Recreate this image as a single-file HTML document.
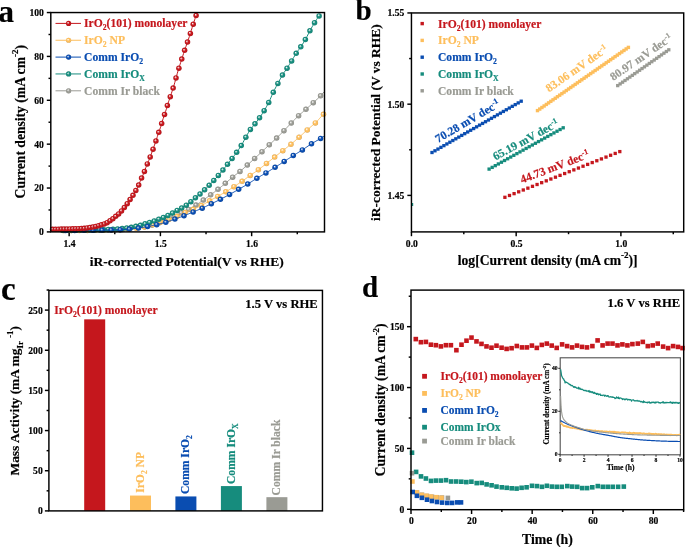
<!DOCTYPE html><html><head><meta charset="utf-8"><style>html,body{margin:0;padding:0;background:#fff;overflow:hidden}svg{display:block;filter:blur(0.3px)}</style></head><body>
<svg width="685" height="547" viewBox="0 0 685 547" font-family="Liberation Serif" font-weight="bold">
<defs>
<radialGradient id="gr" cx="0.5" cy="0.5" r="0.5" fx="0.38" fy="0.34"><stop offset="0" stop-color="#fff" stop-opacity="0.7"/><stop offset="0.5" stop-color="#C5171D"/><stop offset="0.8" stop-color="#C5171D"/><stop offset="1" stop-color="#A71318"/></radialGradient>
<radialGradient id="gy" cx="0.5" cy="0.5" r="0.5" fx="0.38" fy="0.34"><stop offset="0" stop-color="#fff" stop-opacity="0.7"/><stop offset="0.5" stop-color="#FDBE5C"/><stop offset="0.8" stop-color="#FDBE5C"/><stop offset="1" stop-color="#D7A14E"/></radialGradient>
<radialGradient id="gb" cx="0.5" cy="0.5" r="0.5" fx="0.38" fy="0.34"><stop offset="0" stop-color="#fff" stop-opacity="0.7"/><stop offset="0.5" stop-color="#0A4DB1"/><stop offset="0.8" stop-color="#0A4DB1"/><stop offset="1" stop-color="#084196"/></radialGradient>
<radialGradient id="gt" cx="0.5" cy="0.5" r="0.5" fx="0.38" fy="0.34"><stop offset="0" stop-color="#fff" stop-opacity="0.7"/><stop offset="0.5" stop-color="#168C7D"/><stop offset="0.8" stop-color="#168C7D"/><stop offset="1" stop-color="#12776A"/></radialGradient>
<radialGradient id="gg" cx="0.5" cy="0.5" r="0.5" fx="0.38" fy="0.34"><stop offset="0" stop-color="#fff" stop-opacity="0.7"/><stop offset="0.5" stop-color="#9A9B94"/><stop offset="0.8" stop-color="#9A9B94"/><stop offset="1" stop-color="#82837D"/></radialGradient>
</defs>
<text x="-1.8" y="21.6" font-size="31.5" fill="#000" stroke="#000" stroke-width="0.18" text-anchor="start">a</text>
<line x1="46.8" y1="231.9" x2="50.8" y2="231.9" stroke="#000" stroke-width="1.45"/>
<text x="43.9" y="235.3" font-size="9.6" fill="#000" stroke="#000" stroke-width="0.18" text-anchor="end">0</text>
<line x1="46.8" y1="188.03" x2="50.8" y2="188.03" stroke="#000" stroke-width="1.45"/>
<text x="43.9" y="191.43" font-size="9.6" fill="#000" stroke="#000" stroke-width="0.18" text-anchor="end">20</text>
<line x1="46.8" y1="144.16" x2="50.8" y2="144.16" stroke="#000" stroke-width="1.45"/>
<text x="43.9" y="147.56" font-size="9.6" fill="#000" stroke="#000" stroke-width="0.18" text-anchor="end">40</text>
<line x1="46.8" y1="100.29" x2="50.8" y2="100.29" stroke="#000" stroke-width="1.45"/>
<text x="43.9" y="103.69" font-size="9.6" fill="#000" stroke="#000" stroke-width="0.18" text-anchor="end">60</text>
<line x1="46.8" y1="56.42" x2="50.8" y2="56.42" stroke="#000" stroke-width="1.45"/>
<text x="43.9" y="59.82" font-size="9.6" fill="#000" stroke="#000" stroke-width="0.18" text-anchor="end">80</text>
<line x1="46.8" y1="12.55" x2="50.8" y2="12.55" stroke="#000" stroke-width="1.45"/>
<text x="43.9" y="15.95" font-size="9.6" fill="#000" stroke="#000" stroke-width="0.18" text-anchor="end">100</text>
<line x1="48.5" y1="209.97" x2="50.8" y2="209.97" stroke="#000" stroke-width="1.45"/>
<line x1="48.5" y1="166.1" x2="50.8" y2="166.1" stroke="#000" stroke-width="1.45"/>
<line x1="48.5" y1="122.23" x2="50.8" y2="122.23" stroke="#000" stroke-width="1.45"/>
<line x1="48.5" y1="78.36" x2="50.8" y2="78.36" stroke="#000" stroke-width="1.45"/>
<line x1="48.5" y1="34.49" x2="50.8" y2="34.49" stroke="#000" stroke-width="1.45"/>
<line x1="69.15" y1="231.9" x2="69.15" y2="236.2" stroke="#000" stroke-width="1.45"/>
<text x="69.55" y="246.6" font-size="9.6" fill="#000" stroke="#000" stroke-width="0.18" text-anchor="middle">1.4</text>
<line x1="160.4" y1="231.9" x2="160.4" y2="236.2" stroke="#000" stroke-width="1.45"/>
<text x="160.8" y="246.6" font-size="9.6" fill="#000" stroke="#000" stroke-width="0.18" text-anchor="middle">1.5</text>
<line x1="251.65" y1="231.9" x2="251.65" y2="236.2" stroke="#000" stroke-width="1.45"/>
<text x="252.05" y="246.6" font-size="9.6" fill="#000" stroke="#000" stroke-width="0.18" text-anchor="middle">1.6</text>
<line x1="114.78" y1="231.9" x2="114.78" y2="234.2" stroke="#000" stroke-width="1.45"/>
<line x1="206.03" y1="231.9" x2="206.03" y2="234.2" stroke="#000" stroke-width="1.45"/>
<line x1="297.27" y1="231.9" x2="297.27" y2="234.2" stroke="#000" stroke-width="1.45"/>
<text x="186.75" y="266.2" font-size="13.5" fill="#000" stroke="#000" stroke-width="0.18" text-anchor="middle">iR-corrected Potential(V vs RHE)</text>
<text x="24.6" y="121.7" font-size="13.6" fill="#000" stroke="#000" stroke-width="0.18" text-anchor="middle" transform="rotate(-90 24.6 121.7)">Current density (mA cm<tspan dy="-6.39" font-size="8.98">-2</tspan><tspan dy="6.39">)</tspan></text>
<svg x="50.8" y="12.55" width="273.7" height="219.35" viewBox="50.8 12.55 273.7 219.35" overflow="hidden">
<path d="M58,230.4 L58.89,230.4 L59.78,230.4 L60.67,230.4 L61.56,230.4 L62.45,230.4 L63.34,230.4 L64.23,230.4 L65.12,230.39 L66.01,230.39 L66.9,230.39 L67.79,230.39 L68.68,230.39 L69.57,230.39 L70.45,230.38 L71.34,230.38 L72.23,230.38 L73.12,230.38 L74.01,230.37 L74.9,230.37 L75.79,230.37 L76.68,230.36 L77.57,230.36 L78.46,230.36 L79.35,230.35 L80.24,230.35 L81.13,230.34 L82.02,230.34 L82.91,230.34 L83.8,230.33 L84.69,230.33 L85.58,230.32 L86.47,230.32 L87.36,230.31 L88.25,230.31 L89.14,230.3 L90.03,230.3 L90.92,230.29 L91.81,230.29 L92.7,230.28 L93.59,230.27 L94.47,230.26 L95.36,230.25 L96.25,230.24 L97.14,230.23 L98.03,230.21 L98.92,230.2 L99.81,230.18 L100.7,230.17 L101.59,230.15 L102.48,230.13 L103.37,230.11 L104.26,230.09 L105.15,230.07 L106.04,230.05 L106.93,230.03 L107.82,230.01 L108.71,229.98 L109.6,229.96 L110.49,229.93 L111.38,229.9 L112.27,229.88 L113.16,229.85 L114.05,229.82 L114.94,229.79 L115.83,229.76 L116.72,229.72 L117.61,229.69 L118.49,229.66 L119.38,229.62 L120.27,229.59 L121.16,229.55 L122.05,229.5 L122.94,229.45 L123.83,229.39 L124.72,229.33 L125.61,229.26 L126.5,229.19 L127.39,229.11 L128.28,229.03 L129.17,228.95 L130.06,228.85 L130.95,228.76 L131.84,228.66 L132.73,228.56 L133.62,228.45 L134.51,228.34 L135.4,228.23 L136.29,228.11 L137.18,227.99 L138.07,227.87 L138.96,227.75 L139.85,227.62 L140.74,227.49 L141.63,227.35 L142.52,227.19 L143.4,227.03 L144.29,226.85 L145.18,226.66 L146.07,226.47 L146.96,226.26 L147.85,226.05 L148.74,225.83 L149.63,225.6 L150.52,225.36 L151.41,225.12 L152.3,224.87 L153.19,224.61 L154.08,224.35 L154.97,224.08 L155.86,223.81 L156.75,223.54 L157.64,223.26 L158.53,222.97 L159.42,222.69 L160.31,222.4 L161.2,222.1 L162.09,221.77 L162.98,221.44 L163.87,221.09 L164.76,220.73 L165.65,220.35 L166.54,219.96 L167.42,219.57 L168.31,219.16 L169.2,218.75 L170.09,218.33 L170.98,217.9 L171.87,217.47 L172.76,217.03 L173.65,216.6 L174.54,216.16 L175.43,215.72 L176.32,215.28 L177.21,214.85 L178.1,214.41 L178.99,213.99 L179.88,213.56 L180.77,213.15 L181.66,212.74 L182.55,212.33 L183.44,211.93 L184.33,211.54 L185.22,211.13 L186.11,210.72 L187,210.3 L187.89,209.87 L188.78,209.41 L189.67,208.94 L190.56,208.44 L191.44,207.92 L192.33,207.39 L193.22,206.85 L194.11,206.3 L195,205.74 L195.89,205.17 L196.78,204.59 L197.67,204 L198.56,203.39 L199.45,202.77 L200.34,202.14 L201.23,201.51 L202.12,200.88 L203.01,200.25 L203.9,199.62 L204.79,198.99 L205.68,198.37 L206.57,197.74 L207.46,197.1 L208.35,196.47 L209.24,195.83 L210.13,195.19 L211.02,194.54 L211.91,193.89 L212.8,193.24 L213.69,192.59 L214.58,191.93 L215.46,191.27 L216.35,190.6 L217.24,189.92 L218.13,189.23 L219.02,188.53 L219.91,187.82 L220.8,187.09 L221.69,186.36 L222.58,185.62 L223.47,184.88 L224.36,184.14 L225.25,183.39 L226.14,182.65 L227.03,181.89 L227.92,181.13 L228.81,180.37 L229.7,179.6 L230.59,178.84 L231.48,178.09 L232.37,177.35 L233.26,176.63 L234.15,175.93 L235.04,175.24 L235.93,174.56 L236.82,173.89 L237.71,173.21 L238.6,172.52 L239.48,171.82 L240.37,171.1 L241.26,170.36 L242.15,169.61 L243.04,168.84 L243.93,168.06 L244.82,167.27 L245.71,166.48 L246.6,165.69 L247.49,164.9 L248.38,164.1 L249.27,163.31 L250.16,162.51 L251.05,161.71 L251.94,160.9 L252.83,160.09 L253.72,159.28 L254.61,158.47 L255.5,157.66 L256.39,156.85 L257.28,156.04 L258.17,155.23 L259.06,154.41 L259.95,153.59 L260.84,152.77 L261.73,151.94 L262.62,151.11 L263.51,150.28 L264.39,149.43 L265.28,148.59 L266.17,147.74 L267.06,146.89 L267.95,146.05 L268.84,145.21 L269.73,144.38 L270.62,143.56 L271.51,142.75 L272.4,141.94 L273.29,141.14 L274.18,140.33 L275.07,139.52 L275.96,138.69 L276.85,137.84 L277.74,136.98 L278.63,136.1 L279.52,135.21 L280.41,134.3 L281.3,133.39 L282.19,132.47 L283.08,131.55 L283.97,130.64 L284.86,129.72 L285.75,128.79 L286.64,127.86 L287.53,126.93 L288.41,126 L289.3,125.07 L290.19,124.14 L291.08,123.23 L291.97,122.32 L292.86,121.4 L293.75,120.49 L294.64,119.58 L295.53,118.68 L296.42,117.79 L297.31,116.92 L298.2,116.06 L299.09,115.23 L299.98,114.42 L300.87,113.64 L301.76,112.87 L302.65,112.11 L303.54,111.35 L304.43,110.59 L305.32,109.82 L306.21,109.04 L307.1,108.26 L307.99,107.47 L308.88,106.69 L309.77,105.9 L310.66,105.1 L311.55,104.31 L312.43,103.5 L313.32,102.69 L314.21,101.87 L315.1,101.06 L315.99,100.25 L316.88,99.42 L317.77,98.59 L318.66,97.74 L319.55,96.86 L320.44,95.96 L321.33,95.03 L322.22,94.05 L323.11,93.03 L324,92" fill="none" stroke="#9A9B94" stroke-width="1"/>
<circle cx="64.05" cy="230.4" r="2.75" fill="url(#gg)"/>
<circle cx="71.38" cy="230.38" r="2.75" fill="url(#gg)"/>
<circle cx="78.71" cy="230.35" r="2.75" fill="url(#gg)"/>
<circle cx="86.04" cy="230.32" r="2.75" fill="url(#gg)"/>
<circle cx="93.37" cy="230.27" r="2.75" fill="url(#gg)"/>
<circle cx="100.7" cy="230.17" r="2.75" fill="url(#gg)"/>
<circle cx="108.03" cy="230" r="2.75" fill="url(#gg)"/>
<circle cx="115.36" cy="229.77" r="2.75" fill="url(#gg)"/>
<circle cx="122.69" cy="229.47" r="2.75" fill="url(#gg)"/>
<circle cx="130.02" cy="228.86" r="2.75" fill="url(#gg)"/>
<circle cx="137.35" cy="227.97" r="2.75" fill="url(#gg)"/>
<circle cx="144.68" cy="226.77" r="2.75" fill="url(#gg)"/>
<circle cx="152.01" cy="224.95" r="2.75" fill="url(#gg)"/>
<circle cx="159.34" cy="222.71" r="2.75" fill="url(#gg)"/>
<circle cx="166.67" cy="219.9" r="2.75" fill="url(#gg)"/>
<circle cx="174" cy="216.43" r="2.75" fill="url(#gg)"/>
<circle cx="181.33" cy="212.89" r="2.75" fill="url(#gg)"/>
<circle cx="188.66" cy="209.47" r="2.75" fill="url(#gg)"/>
<circle cx="195.99" cy="205.11" r="2.75" fill="url(#gg)"/>
<circle cx="203.32" cy="200.03" r="2.75" fill="url(#gg)"/>
<circle cx="210.65" cy="194.81" r="2.75" fill="url(#gg)"/>
<circle cx="217.98" cy="189.35" r="2.75" fill="url(#gg)"/>
<circle cx="225.31" cy="183.34" r="2.75" fill="url(#gg)"/>
<circle cx="232.64" cy="177.13" r="2.75" fill="url(#gg)"/>
<circle cx="239.97" cy="171.43" r="2.75" fill="url(#gg)"/>
<circle cx="247.3" cy="165.07" r="2.75" fill="url(#gg)"/>
<circle cx="254.63" cy="158.45" r="2.75" fill="url(#gg)"/>
<circle cx="261.96" cy="151.72" r="2.75" fill="url(#gg)"/>
<circle cx="269.29" cy="144.79" r="2.75" fill="url(#gg)"/>
<circle cx="276.62" cy="138.06" r="2.75" fill="url(#gg)"/>
<circle cx="283.95" cy="130.65" r="2.75" fill="url(#gg)"/>
<circle cx="291.28" cy="123.02" r="2.75" fill="url(#gg)"/>
<circle cx="298.61" cy="115.68" r="2.75" fill="url(#gg)"/>
<circle cx="305.94" cy="109.28" r="2.75" fill="url(#gg)"/>
<circle cx="313.27" cy="102.74" r="2.75" fill="url(#gg)"/>
<circle cx="320.6" cy="95.8" r="2.75" fill="url(#gg)"/>
<path d="M58,230.5 L58.89,230.5 L59.79,230.5 L60.68,230.5 L61.57,230.5 L62.46,230.5 L63.36,230.5 L64.25,230.5 L65.14,230.49 L66.04,230.49 L66.93,230.49 L67.82,230.49 L68.72,230.49 L69.61,230.48 L70.5,230.48 L71.39,230.48 L72.29,230.48 L73.18,230.47 L74.07,230.47 L74.97,230.47 L75.86,230.47 L76.75,230.46 L77.65,230.46 L78.54,230.46 L79.43,230.45 L80.32,230.45 L81.22,230.44 L82.11,230.44 L83,230.44 L83.9,230.43 L84.79,230.43 L85.68,230.42 L86.58,230.42 L87.47,230.41 L88.36,230.41 L89.25,230.4 L90.15,230.4 L91.04,230.39 L91.93,230.39 L92.83,230.38 L93.72,230.37 L94.61,230.36 L95.51,230.36 L96.4,230.35 L97.29,230.33 L98.18,230.32 L99.08,230.31 L99.97,230.3 L100.86,230.28 L101.76,230.27 L102.65,230.25 L103.54,230.24 L104.43,230.22 L105.33,230.2 L106.22,230.19 L107.11,230.17 L108.01,230.15 L108.9,230.13 L109.79,230.1 L110.69,230.08 L111.58,230.06 L112.47,230.03 L113.36,230.01 L114.26,229.98 L115.15,229.96 L116.04,229.93 L116.94,229.9 L117.83,229.87 L118.72,229.84 L119.62,229.81 L120.51,229.78 L121.4,229.74 L122.29,229.7 L123.19,229.65 L124.08,229.59 L124.97,229.53 L125.87,229.46 L126.76,229.39 L127.65,229.31 L128.55,229.23 L129.44,229.14 L130.33,229.04 L131.22,228.95 L132.12,228.85 L133.01,228.74 L133.9,228.63 L134.8,228.52 L135.69,228.4 L136.58,228.28 L137.47,228.16 L138.37,228.04 L139.26,227.91 L140.15,227.78 L141.05,227.63 L141.94,227.48 L142.83,227.3 L143.73,227.11 L144.62,226.91 L145.51,226.69 L146.4,226.47 L147.3,226.23 L148.19,225.98 L149.08,225.73 L149.98,225.46 L150.87,225.19 L151.76,224.92 L152.66,224.64 L153.55,224.35 L154.44,224.07 L155.33,223.78 L156.23,223.5 L157.12,223.21 L158.01,222.92 L158.91,222.64 L159.8,222.36 L160.69,222.09 L161.59,221.81 L162.48,221.53 L163.37,221.24 L164.26,220.96 L165.16,220.67 L166.05,220.38 L166.94,220.08 L167.84,219.78 L168.73,219.47 L169.62,219.16 L170.52,218.85 L171.41,218.52 L172.3,218.2 L173.19,217.86 L174.09,217.52 L174.98,217.17 L175.87,216.82 L176.77,216.46 L177.66,216.07 L178.55,215.66 L179.44,215.23 L180.34,214.78 L181.23,214.33 L182.12,213.87 L183.02,213.43 L183.91,213 L184.8,212.6 L185.7,212.22 L186.59,211.86 L187.48,211.51 L188.37,211.17 L189.27,210.83 L190.16,210.49 L191.05,210.15 L191.95,209.79 L192.84,209.43 L193.73,209.05 L194.63,208.67 L195.52,208.28 L196.41,207.9 L197.3,207.5 L198.2,207.09 L199.09,206.68 L199.98,206.25 L200.88,205.81 L201.77,205.36 L202.66,204.88 L203.56,204.37 L204.45,203.85 L205.34,203.32 L206.23,202.78 L207.13,202.24 L208.02,201.71 L208.91,201.19 L209.81,200.68 L210.7,200.19 L211.59,199.7 L212.48,199.22 L213.38,198.74 L214.27,198.27 L215.16,197.79 L216.06,197.3 L216.95,196.82 L217.84,196.32 L218.74,195.82 L219.63,195.32 L220.52,194.82 L221.41,194.31 L222.31,193.8 L223.2,193.29 L224.09,192.77 L224.99,192.24 L225.88,191.71 L226.77,191.17 L227.67,190.63 L228.56,190.08 L229.45,189.52 L230.34,188.96 L231.24,188.4 L232.13,187.83 L233.02,187.26 L233.92,186.68 L234.81,186.11 L235.7,185.52 L236.6,184.94 L237.49,184.35 L238.38,183.75 L239.27,183.16 L240.17,182.55 L241.06,181.95 L241.95,181.33 L242.85,180.71 L243.74,180.08 L244.63,179.45 L245.53,178.8 L246.42,178.16 L247.31,177.51 L248.2,176.87 L249.1,176.23 L249.99,175.59 L250.88,174.96 L251.78,174.34 L252.67,173.73 L253.56,173.12 L254.45,172.51 L255.35,171.9 L256.24,171.28 L257.13,170.66 L258.03,170.02 L258.92,169.36 L259.81,168.69 L260.71,168.01 L261.6,167.31 L262.49,166.61 L263.38,165.9 L264.28,165.19 L265.17,164.48 L266.06,163.78 L266.96,163.08 L267.85,162.38 L268.74,161.69 L269.64,160.99 L270.53,160.29 L271.42,159.6 L272.31,158.9 L273.21,158.2 L274.1,157.51 L274.99,156.81 L275.89,156.1 L276.78,155.4 L277.67,154.69 L278.57,153.99 L279.46,153.28 L280.35,152.57 L281.24,151.87 L282.14,151.16 L283.03,150.46 L283.92,149.75 L284.82,149.06 L285.71,148.37 L286.6,147.68 L287.49,146.99 L288.39,146.29 L289.28,145.59 L290.17,144.88 L291.07,144.15 L291.96,143.42 L292.85,142.67 L293.75,141.92 L294.64,141.15 L295.53,140.38 L296.42,139.6 L297.32,138.82 L298.21,138.04 L299.1,137.25 L300,136.46 L300.89,135.66 L301.78,134.85 L302.68,134.04 L303.57,133.23 L304.46,132.41 L305.35,131.6 L306.25,130.79 L307.14,129.99 L308.03,129.19 L308.93,128.42 L309.82,127.67 L310.71,126.92 L311.61,126.17 L312.5,125.42 L313.39,124.66 L314.28,123.88 L315.18,123.07 L316.07,122.23 L316.96,121.34 L317.86,120.38 L318.75,119.4 L319.64,118.39 L320.54,117.39 L321.43,116.41 L322.32,115.47 L323.21,114.59 L324.11,113.78 L325,113" fill="none" stroke="#FDBE5C" stroke-width="1"/>
<circle cx="63.02" cy="230.5" r="2.75" fill="url(#gy)"/>
<circle cx="71.16" cy="230.48" r="2.75" fill="url(#gy)"/>
<circle cx="79.3" cy="230.45" r="2.75" fill="url(#gy)"/>
<circle cx="87.44" cy="230.41" r="2.75" fill="url(#gy)"/>
<circle cx="95.58" cy="230.35" r="2.75" fill="url(#gy)"/>
<circle cx="103.72" cy="230.24" r="2.75" fill="url(#gy)"/>
<circle cx="111.86" cy="230.05" r="2.75" fill="url(#gy)"/>
<circle cx="120" cy="229.8" r="2.75" fill="url(#gy)"/>
<circle cx="128.14" cy="229.26" r="2.75" fill="url(#gy)"/>
<circle cx="136.28" cy="228.32" r="2.75" fill="url(#gy)"/>
<circle cx="144.42" cy="226.95" r="2.75" fill="url(#gy)"/>
<circle cx="152.56" cy="224.67" r="2.75" fill="url(#gy)"/>
<circle cx="160.7" cy="222.08" r="2.75" fill="url(#gy)"/>
<circle cx="168.84" cy="219.43" r="2.75" fill="url(#gy)"/>
<circle cx="176.98" cy="216.37" r="2.75" fill="url(#gy)"/>
<circle cx="185.12" cy="212.46" r="2.75" fill="url(#gy)"/>
<circle cx="193.26" cy="209.25" r="2.75" fill="url(#gy)"/>
<circle cx="201.4" cy="205.55" r="2.75" fill="url(#gy)"/>
<circle cx="209.54" cy="200.83" r="2.75" fill="url(#gy)"/>
<circle cx="217.68" cy="196.41" r="2.75" fill="url(#gy)"/>
<circle cx="225.82" cy="191.75" r="2.75" fill="url(#gy)"/>
<circle cx="233.96" cy="186.65" r="2.75" fill="url(#gy)"/>
<circle cx="242.1" cy="181.23" r="2.75" fill="url(#gy)"/>
<circle cx="250.24" cy="175.41" r="2.75" fill="url(#gy)"/>
<circle cx="258.38" cy="169.76" r="2.75" fill="url(#gy)"/>
<circle cx="266.52" cy="163.42" r="2.75" fill="url(#gy)"/>
<circle cx="274.66" cy="157.07" r="2.75" fill="url(#gy)"/>
<circle cx="282.8" cy="150.64" r="2.75" fill="url(#gy)"/>
<circle cx="290.94" cy="144.26" r="2.75" fill="url(#gy)"/>
<circle cx="299.08" cy="137.27" r="2.75" fill="url(#gy)"/>
<circle cx="307.22" cy="129.92" r="2.75" fill="url(#gy)"/>
<circle cx="315.36" cy="122.9" r="2.75" fill="url(#gy)"/>
<circle cx="323.5" cy="114.32" r="2.75" fill="url(#gy)"/>
<path d="M58,230.2 L58.87,230.2 L59.75,230.2 L60.62,230.2 L61.49,230.2 L62.37,230.19 L63.24,230.19 L64.11,230.19 L64.99,230.19 L65.86,230.18 L66.73,230.18 L67.61,230.18 L68.48,230.17 L69.35,230.17 L70.23,230.16 L71.1,230.16 L71.97,230.15 L72.85,230.15 L73.72,230.14 L74.59,230.14 L75.46,230.13 L76.34,230.13 L77.21,230.12 L78.08,230.11 L78.96,230.11 L79.83,230.1 L80.7,230.09 L81.58,230.09 L82.45,230.08 L83.32,230.07 L84.2,230.06 L85.07,230.05 L85.94,230.04 L86.82,230.03 L87.69,230.02 L88.56,230.01 L89.44,230 L90.31,229.99 L91.18,229.97 L92.06,229.96 L92.93,229.94 L93.8,229.93 L94.68,229.91 L95.55,229.89 L96.42,229.88 L97.3,229.86 L98.17,229.84 L99.04,229.82 L99.92,229.8 L100.79,229.78 L101.66,229.76 L102.54,229.73 L103.41,229.71 L104.28,229.68 L105.16,229.65 L106.03,229.61 L106.9,229.58 L107.77,229.54 L108.65,229.5 L109.52,229.46 L110.39,229.41 L111.27,229.37 L112.14,229.32 L113.01,229.27 L113.89,229.22 L114.76,229.17 L115.63,229.11 L116.51,229.05 L117.38,228.99 L118.25,228.93 L119.13,228.87 L120,228.8 L120.87,228.73 L121.75,228.64 L122.62,228.55 L123.49,228.45 L124.37,228.34 L125.24,228.22 L126.11,228.09 L126.99,227.96 L127.86,227.82 L128.73,227.67 L129.61,227.52 L130.48,227.37 L131.35,227.21 L132.23,227.05 L133.1,226.89 L133.97,226.72 L134.85,226.56 L135.72,226.39 L136.59,226.23 L137.47,226.05 L138.34,225.87 L139.21,225.68 L140.08,225.47 L140.96,225.25 L141.83,225 L142.7,224.71 L143.58,224.38 L144.45,224.05 L145.32,223.73 L146.2,223.44 L147.07,223.18 L147.94,222.93 L148.82,222.68 L149.69,222.42 L150.56,222.16 L151.44,221.89 L152.31,221.62 L153.18,221.34 L154.06,221.05 L154.93,220.74 L155.8,220.41 L156.68,220.06 L157.55,219.7 L158.42,219.35 L159.3,219.01 L160.17,218.69 L161.04,218.37 L161.92,218.05 L162.79,217.72 L163.66,217.37 L164.54,217.01 L165.41,216.62 L166.28,216.22 L167.16,215.81 L168.03,215.39 L168.9,214.95 L169.78,214.49 L170.65,214.02 L171.52,213.55 L172.39,213.07 L173.27,212.58 L174.14,212.09 L175.01,211.58 L175.89,211.08 L176.76,210.59 L177.63,210.11 L178.51,209.65 L179.38,209.2 L180.25,208.74 L181.13,208.28 L182,207.79 L182.87,207.28 L183.75,206.76 L184.62,206.23 L185.49,205.67 L186.37,205.09 L187.24,204.48 L188.11,203.84 L188.99,203.16 L189.86,202.47 L190.73,201.78 L191.61,201.07 L192.48,200.34 L193.35,199.6 L194.23,198.85 L195.1,198.11 L195.97,197.37 L196.85,196.65 L197.72,195.94 L198.59,195.23 L199.47,194.5 L200.34,193.75 L201.21,192.98 L202.09,192.18 L202.96,191.36 L203.83,190.53 L204.71,189.7 L205.58,188.85 L206.45,187.98 L207.32,187.11 L208.2,186.22 L209.07,185.34 L209.94,184.44 L210.82,183.54 L211.69,182.64 L212.56,181.72 L213.44,180.8 L214.31,179.86 L215.18,178.91 L216.06,177.95 L216.93,176.99 L217.8,176 L218.68,175.01 L219.55,174.01 L220.42,172.99 L221.3,171.95 L222.17,170.91 L223.04,169.85 L223.92,168.77 L224.79,167.67 L225.66,166.56 L226.54,165.45 L227.41,164.34 L228.28,163.24 L229.16,162.15 L230.03,161.06 L230.9,159.96 L231.78,158.85 L232.65,157.71 L233.52,156.56 L234.4,155.4 L235.27,154.22 L236.14,153.02 L237.02,151.8 L237.89,150.58 L238.76,149.35 L239.63,148.09 L240.51,146.78 L241.38,145.39 L242.25,143.9 L243.13,142.27 L244,140.58 L244.87,138.9 L245.75,137.29 L246.62,135.75 L247.49,134.2 L248.37,132.7 L249.24,131.26 L250.11,129.91 L250.99,128.69 L251.86,127.58 L252.73,126.54 L253.61,125.51 L254.48,124.47 L255.35,123.38 L256.23,122.26 L257.1,121.13 L257.97,119.98 L258.85,118.8 L259.72,117.57 L260.59,116.3 L261.47,114.98 L262.34,113.62 L263.21,112.23 L264.09,110.79 L264.96,109.32 L265.83,107.82 L266.71,106.27 L267.58,104.66 L268.45,102.99 L269.33,101.21 L270.2,99.28 L271.07,97.25 L271.94,95.21 L272.82,93.24 L273.69,91.4 L274.56,89.67 L275.44,87.99 L276.31,86.35 L277.18,84.72 L278.06,83.09 L278.93,81.44 L279.8,79.79 L280.68,78.16 L281.55,76.58 L282.42,75.1 L283.3,73.71 L284.17,72.39 L285.04,71.11 L285.92,69.83 L286.79,68.52 L287.66,67.17 L288.54,65.81 L289.41,64.44 L290.28,63.05 L291.16,61.65 L292.03,60.24 L292.9,58.78 L293.78,57.31 L294.65,55.84 L295.52,54.42 L296.4,53.05 L297.27,51.77 L298.14,50.55 L299.02,49.34 L299.89,48.12 L300.76,46.86 L301.64,45.55 L302.51,44.22 L303.38,42.87 L304.25,41.46 L305.13,40 L306,38.43 L306.87,36.75 L307.75,35.01 L308.62,33.27 L309.49,31.6 L310.37,29.99 L311.24,28.39 L312.11,26.83 L312.99,25.3 L313.86,23.82 L314.73,22.4 L315.61,21.02 L316.48,19.68 L317.35,18.38 L318.23,17.12 L319.1,15.9" fill="none" stroke="#168C7D" stroke-width="1"/>
<circle cx="62.62" cy="230.19" r="2.75" fill="url(#gt)"/>
<circle cx="67.2" cy="230.18" r="2.75" fill="url(#gt)"/>
<circle cx="71.78" cy="230.15" r="2.75" fill="url(#gt)"/>
<circle cx="76.36" cy="230.13" r="2.75" fill="url(#gt)"/>
<circle cx="80.94" cy="230.09" r="2.75" fill="url(#gt)"/>
<circle cx="85.52" cy="230.05" r="2.75" fill="url(#gt)"/>
<circle cx="90.1" cy="229.99" r="2.75" fill="url(#gt)"/>
<circle cx="94.68" cy="229.91" r="2.75" fill="url(#gt)"/>
<circle cx="99.26" cy="229.82" r="2.75" fill="url(#gt)"/>
<circle cx="103.84" cy="229.69" r="2.75" fill="url(#gt)"/>
<circle cx="108.42" cy="229.51" r="2.75" fill="url(#gt)"/>
<circle cx="113" cy="229.27" r="2.75" fill="url(#gt)"/>
<circle cx="117.58" cy="228.98" r="2.75" fill="url(#gt)"/>
<circle cx="122.16" cy="228.6" r="2.75" fill="url(#gt)"/>
<circle cx="126.74" cy="228" r="2.75" fill="url(#gt)"/>
<circle cx="131.32" cy="227.22" r="2.75" fill="url(#gt)"/>
<circle cx="135.9" cy="226.36" r="2.75" fill="url(#gt)"/>
<circle cx="140.48" cy="225.37" r="2.75" fill="url(#gt)"/>
<circle cx="145.06" cy="223.82" r="2.75" fill="url(#gt)"/>
<circle cx="149.64" cy="222.44" r="2.75" fill="url(#gt)"/>
<circle cx="154.22" cy="221" r="2.75" fill="url(#gt)"/>
<circle cx="158.8" cy="219.2" r="2.75" fill="url(#gt)"/>
<circle cx="163.38" cy="217.49" r="2.75" fill="url(#gt)"/>
<circle cx="167.96" cy="215.42" r="2.75" fill="url(#gt)"/>
<circle cx="172.54" cy="212.99" r="2.75" fill="url(#gt)"/>
<circle cx="177.12" cy="210.39" r="2.75" fill="url(#gt)"/>
<circle cx="181.7" cy="207.96" r="2.75" fill="url(#gt)"/>
<circle cx="186.28" cy="205.15" r="2.75" fill="url(#gt)"/>
<circle cx="190.86" cy="201.67" r="2.75" fill="url(#gt)"/>
<circle cx="195.44" cy="197.82" r="2.75" fill="url(#gt)"/>
<circle cx="200.02" cy="194.03" r="2.75" fill="url(#gt)"/>
<circle cx="204.6" cy="189.8" r="2.75" fill="url(#gt)"/>
<circle cx="209.18" cy="185.22" r="2.75" fill="url(#gt)"/>
<circle cx="213.76" cy="180.45" r="2.75" fill="url(#gt)"/>
<circle cx="218.34" cy="175.4" r="2.75" fill="url(#gt)"/>
<circle cx="222.92" cy="170" r="2.75" fill="url(#gt)"/>
<circle cx="227.5" cy="164.23" r="2.75" fill="url(#gt)"/>
<circle cx="232.08" cy="158.46" r="2.75" fill="url(#gt)"/>
<circle cx="236.66" cy="152.3" r="2.75" fill="url(#gt)"/>
<circle cx="241.24" cy="145.62" r="2.75" fill="url(#gt)"/>
<circle cx="245.82" cy="137.16" r="2.75" fill="url(#gt)"/>
<circle cx="250.4" cy="129.5" r="2.75" fill="url(#gt)"/>
<circle cx="254.98" cy="123.85" r="2.75" fill="url(#gt)"/>
<circle cx="259.56" cy="117.8" r="2.75" fill="url(#gt)"/>
<circle cx="264.14" cy="110.7" r="2.75" fill="url(#gt)"/>
<circle cx="268.72" cy="102.46" r="2.75" fill="url(#gt)"/>
<circle cx="273.3" cy="92.21" r="2.75" fill="url(#gt)"/>
<circle cx="277.88" cy="83.42" r="2.75" fill="url(#gt)"/>
<circle cx="282.46" cy="75.04" r="2.75" fill="url(#gt)"/>
<circle cx="287.04" cy="68.14" r="2.75" fill="url(#gt)"/>
<circle cx="291.62" cy="60.91" r="2.75" fill="url(#gt)"/>
<circle cx="296.2" cy="53.35" r="2.75" fill="url(#gt)"/>
<circle cx="300.78" cy="46.83" r="2.75" fill="url(#gt)"/>
<circle cx="305.36" cy="39.6" r="2.75" fill="url(#gt)"/>
<circle cx="309.94" cy="30.77" r="2.75" fill="url(#gt)"/>
<circle cx="314.52" cy="22.74" r="2.75" fill="url(#gt)"/>
<circle cx="319.1" cy="15.9" r="2.75" fill="url(#gt)"/>
<path d="M58,230.6 L58.89,230.59 L59.79,230.58 L60.68,230.57 L61.57,230.56 L62.46,230.54 L63.36,230.53 L64.25,230.52 L65.14,230.51 L66.04,230.5 L66.93,230.49 L67.82,230.48 L68.72,230.47 L69.61,230.46 L70.5,230.45 L71.39,230.44 L72.29,230.43 L73.18,230.42 L74.07,230.41 L74.97,230.4 L75.86,230.39 L76.75,230.37 L77.65,230.36 L78.54,230.35 L79.43,230.34 L80.32,230.33 L81.22,230.32 L82.11,230.31 L83,230.3 L83.9,230.29 L84.79,230.28 L85.68,230.27 L86.58,230.26 L87.47,230.25 L88.36,230.24 L89.25,230.23 L90.15,230.22 L91.04,230.21 L91.93,230.2 L92.83,230.19 L93.72,230.18 L94.61,230.17 L95.51,230.16 L96.4,230.15 L97.29,230.14 L98.18,230.13 L99.08,230.12 L99.97,230.11 L100.86,230.1 L101.76,230.09 L102.65,230.09 L103.54,230.08 L104.43,230.07 L105.33,230.06 L106.22,230.05 L107.11,230.04 L108.01,230.04 L108.9,230.03 L109.79,230.01 L110.69,230 L111.58,229.98 L112.47,229.97 L113.36,229.94 L114.26,229.92 L115.15,229.89 L116.04,229.86 L116.94,229.83 L117.83,229.79 L118.72,229.76 L119.62,229.72 L120.51,229.68 L121.4,229.64 L122.29,229.59 L123.19,229.54 L124.08,229.48 L124.97,229.42 L125.87,229.36 L126.76,229.29 L127.65,229.23 L128.55,229.15 L129.44,229.08 L130.33,229 L131.22,228.92 L132.12,228.83 L133.01,228.73 L133.9,228.63 L134.8,228.53 L135.69,228.42 L136.58,228.31 L137.47,228.2 L138.37,228.08 L139.26,227.95 L140.15,227.82 L141.05,227.69 L141.94,227.54 L142.83,227.39 L143.73,227.24 L144.62,227.09 L145.51,226.93 L146.4,226.76 L147.3,226.6 L148.19,226.43 L149.08,226.26 L149.98,226.09 L150.87,225.91 L151.76,225.73 L152.66,225.54 L153.55,225.35 L154.44,225.16 L155.33,224.96 L156.23,224.76 L157.12,224.55 L158.01,224.34 L158.91,224.12 L159.8,223.9 L160.69,223.67 L161.59,223.44 L162.48,223.2 L163.37,222.96 L164.26,222.71 L165.16,222.45 L166.05,222.18 L166.94,221.91 L167.84,221.61 L168.73,221.31 L169.62,220.99 L170.52,220.67 L171.41,220.34 L172.3,220.01 L173.19,219.68 L174.09,219.36 L174.98,219.04 L175.87,218.72 L176.77,218.4 L177.66,218.08 L178.55,217.77 L179.44,217.45 L180.34,217.13 L181.23,216.8 L182.12,216.47 L183.02,216.14 L183.91,215.8 L184.8,215.45 L185.7,215.09 L186.59,214.73 L187.48,214.37 L188.37,214 L189.27,213.62 L190.16,213.25 L191.05,212.87 L191.95,212.5 L192.84,212.13 L193.73,211.75 L194.63,211.38 L195.52,211.01 L196.41,210.64 L197.3,210.27 L198.2,209.89 L199.09,209.51 L199.98,209.13 L200.88,208.74 L201.77,208.35 L202.66,207.95 L203.56,207.53 L204.45,207.12 L205.34,206.69 L206.23,206.26 L207.13,205.83 L208.02,205.4 L208.91,204.96 L209.81,204.53 L210.7,204.09 L211.59,203.66 L212.48,203.23 L213.38,202.8 L214.27,202.37 L215.16,201.94 L216.06,201.51 L216.95,201.07 L217.84,200.63 L218.74,200.19 L219.63,199.74 L220.52,199.29 L221.41,198.83 L222.31,198.36 L223.2,197.89 L224.09,197.42 L224.99,196.95 L225.88,196.47 L226.77,195.98 L227.67,195.5 L228.56,195.01 L229.45,194.53 L230.34,194.04 L231.24,193.55 L232.13,193.05 L233.02,192.55 L233.92,192.06 L234.81,191.55 L235.7,191.05 L236.6,190.54 L237.49,190.04 L238.38,189.53 L239.27,189.01 L240.17,188.5 L241.06,187.98 L241.95,187.47 L242.85,186.95 L243.74,186.42 L244.63,185.9 L245.53,185.37 L246.42,184.83 L247.31,184.3 L248.2,183.75 L249.1,183.2 L249.99,182.64 L250.88,182.08 L251.78,181.51 L252.67,180.94 L253.56,180.37 L254.45,179.81 L255.35,179.25 L256.24,178.7 L257.13,178.15 L258.03,177.61 L258.92,177.08 L259.81,176.55 L260.71,176.02 L261.6,175.49 L262.49,174.97 L263.38,174.44 L264.28,173.91 L265.17,173.38 L266.06,172.84 L266.96,172.3 L267.85,171.77 L268.74,171.23 L269.64,170.69 L270.53,170.15 L271.42,169.61 L272.31,169.07 L273.21,168.52 L274.1,167.96 L274.99,167.4 L275.89,166.84 L276.78,166.26 L277.67,165.68 L278.57,165.1 L279.46,164.51 L280.35,163.92 L281.24,163.33 L282.14,162.75 L283.03,162.16 L283.92,161.59 L284.82,161.01 L285.71,160.44 L286.6,159.87 L287.49,159.3 L288.39,158.73 L289.28,158.16 L290.17,157.59 L291.07,157.03 L291.96,156.46 L292.85,155.89 L293.75,155.33 L294.64,154.77 L295.53,154.21 L296.42,153.65 L297.32,153.09 L298.21,152.53 L299.1,151.97 L300,151.41 L300.89,150.84 L301.78,150.27 L302.68,149.69 L303.57,149.1 L304.46,148.5 L305.35,147.89 L306.25,147.29 L307.14,146.68 L308.03,146.07 L308.93,145.48 L309.82,144.89 L310.71,144.31 L311.61,143.75 L312.5,143.2 L313.39,142.66 L314.28,142.13 L315.18,141.61 L316.07,141.09 L316.96,140.57 L317.86,140.05 L318.75,139.52 L319.64,138.98 L320.54,138.44 L321.43,137.88 L322.32,137.32 L323.21,136.75 L324.11,136.18 L325,135.6" fill="none" stroke="#0A4DB1" stroke-width="1"/>
<circle cx="65.63" cy="230.51" r="2.75" fill="url(#gb)"/>
<circle cx="74.74" cy="230.4" r="2.75" fill="url(#gb)"/>
<circle cx="83.84" cy="230.29" r="2.75" fill="url(#gb)"/>
<circle cx="92.95" cy="230.19" r="2.75" fill="url(#gb)"/>
<circle cx="102.06" cy="230.09" r="2.75" fill="url(#gb)"/>
<circle cx="111.16" cy="229.99" r="2.75" fill="url(#gb)"/>
<circle cx="120.27" cy="229.69" r="2.75" fill="url(#gb)"/>
<circle cx="129.37" cy="229.09" r="2.75" fill="url(#gb)"/>
<circle cx="138.48" cy="228.06" r="2.75" fill="url(#gb)"/>
<circle cx="147.59" cy="226.55" r="2.75" fill="url(#gb)"/>
<circle cx="156.69" cy="224.65" r="2.75" fill="url(#gb)"/>
<circle cx="165.8" cy="222.26" r="2.75" fill="url(#gb)"/>
<circle cx="174.9" cy="219.06" r="2.75" fill="url(#gb)"/>
<circle cx="184.01" cy="215.76" r="2.75" fill="url(#gb)"/>
<circle cx="193.12" cy="212.01" r="2.75" fill="url(#gb)"/>
<circle cx="202.22" cy="208.15" r="2.75" fill="url(#gb)"/>
<circle cx="211.33" cy="203.79" r="2.75" fill="url(#gb)"/>
<circle cx="220.43" cy="199.33" r="2.75" fill="url(#gb)"/>
<circle cx="229.54" cy="194.48" r="2.75" fill="url(#gb)"/>
<circle cx="238.65" cy="189.37" r="2.75" fill="url(#gb)"/>
<circle cx="247.75" cy="184.03" r="2.75" fill="url(#gb)"/>
<circle cx="256.86" cy="178.32" r="2.75" fill="url(#gb)"/>
<circle cx="265.96" cy="172.9" r="2.75" fill="url(#gb)"/>
<circle cx="275.07" cy="167.36" r="2.75" fill="url(#gb)"/>
<circle cx="284.18" cy="161.42" r="2.75" fill="url(#gb)"/>
<circle cx="293.28" cy="155.62" r="2.75" fill="url(#gb)"/>
<circle cx="302.39" cy="149.88" r="2.75" fill="url(#gb)"/>
<circle cx="311.49" cy="143.82" r="2.75" fill="url(#gb)"/>
<circle cx="320.6" cy="138.4" r="2.75" fill="url(#gb)"/>
<path d="M51.5,229.3 L51.98,229.29 L52.47,229.28 L52.95,229.26 L53.43,229.25 L53.92,229.24 L54.4,229.23 L54.89,229.22 L55.37,229.21 L55.85,229.19 L56.34,229.18 L56.82,229.17 L57.3,229.16 L57.79,229.15 L58.27,229.14 L58.75,229.13 L59.24,229.12 L59.72,229.11 L60.21,229.1 L60.69,229.09 L61.17,229.08 L61.66,229.07 L62.14,229.06 L62.62,229.05 L63.11,229.04 L63.59,229.03 L64.07,229.02 L64.56,229.01 L65.04,229 L65.52,228.99 L66.01,228.99 L66.49,228.98 L66.98,228.97 L67.46,228.96 L67.94,228.95 L68.43,228.94 L68.91,228.93 L69.39,228.91 L69.88,228.9 L70.36,228.89 L70.84,228.88 L71.33,228.87 L71.81,228.85 L72.3,228.84 L72.78,228.83 L73.26,228.81 L73.75,228.8 L74.23,228.78 L74.71,228.77 L75.2,228.75 L75.68,228.74 L76.16,228.72 L76.65,228.71 L77.13,228.69 L77.62,228.67 L78.1,228.65 L78.58,228.63 L79.07,228.61 L79.55,228.59 L80.03,228.57 L80.52,228.55 L81,228.52 L81.48,228.5 L81.97,228.48 L82.45,228.45 L82.93,228.42 L83.42,228.38 L83.9,228.34 L84.39,228.3 L84.87,228.26 L85.35,228.21 L85.84,228.16 L86.32,228.1 L86.8,228.03 L87.29,227.95 L87.77,227.87 L88.25,227.79 L88.74,227.71 L89.22,227.62 L89.71,227.53 L90.19,227.43 L90.67,227.34 L91.16,227.25 L91.64,227.17 L92.12,227.08 L92.61,227 L93.09,226.91 L93.57,226.82 L94.06,226.73 L94.54,226.64 L95.03,226.54 L95.51,226.44 L95.99,226.34 L96.48,226.23 L96.96,226.11 L97.44,225.98 L97.93,225.84 L98.41,225.7 L98.89,225.56 L99.38,225.42 L99.86,225.29 L100.34,225.15 L100.83,225.02 L101.31,224.88 L101.8,224.73 L102.28,224.58 L102.76,224.43 L103.25,224.28 L103.73,224.12 L104.21,223.95 L104.7,223.76 L105.18,223.57 L105.66,223.36 L106.15,223.14 L106.63,222.91 L107.12,222.66 L107.6,222.4 L108.08,222.11 L108.57,221.77 L109.05,221.42 L109.53,221.06 L110.02,220.7 L110.5,220.36 L110.98,220.03 L111.47,219.71 L111.95,219.39 L112.44,219.06 L112.92,218.71 L113.4,218.34 L113.89,217.95 L114.37,217.54 L114.85,217.12 L115.34,216.7 L115.82,216.28 L116.3,215.87 L116.79,215.47 L117.27,215.06 L117.75,214.65 L118.24,214.22 L118.72,213.78 L119.21,213.31 L119.69,212.83 L120.17,212.33 L120.66,211.81 L121.14,211.29 L121.62,210.77 L122.11,210.23 L122.59,209.69 L123.07,209.14 L123.56,208.58 L124.04,207.99 L124.53,207.39 L125.01,206.77 L125.49,206.13 L125.98,205.47 L126.46,204.81 L126.94,204.14 L127.43,203.46 L127.91,202.76 L128.39,202.06 L128.88,201.35 L129.36,200.64 L129.85,199.92 L130.33,199.21 L130.81,198.51 L131.3,197.81 L131.78,197.1 L132.26,196.38 L132.75,195.64 L133.23,194.87 L133.71,194.08 L134.2,193.26 L134.68,192.43 L135.16,191.59 L135.65,190.74 L136.13,189.9 L136.62,189.07 L137.1,188.21 L137.58,187.33 L138.07,186.39 L138.55,185.38 L139.03,184.24 L139.52,183.01 L140,181.75 L140.48,180.51 L140.97,179.34 L141.45,178.27 L141.94,177.25 L142.42,176.24 L142.9,175.23 L143.39,174.17 L143.87,173.03 L144.35,171.78 L144.84,170.44 L145.32,169.06 L145.8,167.69 L146.29,166.39 L146.77,165.17 L147.26,164.02 L147.74,162.89 L148.22,161.78 L148.71,160.65 L149.19,159.48 L149.67,158.25 L150.16,157 L150.64,155.72 L151.12,154.42 L151.61,153.11 L152.09,151.8 L152.57,150.48 L153.06,149.15 L153.54,147.82 L154.03,146.47 L154.51,145.1 L154.99,143.71 L155.48,142.29 L155.96,140.82 L156.44,139.33 L156.93,137.84 L157.41,136.37 L157.89,134.93 L158.38,133.52 L158.86,132.13 L159.35,130.74 L159.83,129.33 L160.31,127.88 L160.8,126.36 L161.28,124.78 L161.76,123.16 L162.25,121.54 L162.73,119.95 L163.21,118.44 L163.7,116.99 L164.18,115.58 L164.67,114.18 L165.15,112.77 L165.63,111.32 L166.12,109.82 L166.6,108.24 L167.08,106.62 L167.57,105 L168.05,103.41 L168.53,101.88 L169.02,100.42 L169.5,98.99 L169.98,97.58 L170.47,96.17 L170.95,94.75 L171.44,93.29 L171.92,91.83 L172.4,90.38 L172.89,88.9 L173.37,87.39 L173.85,85.82 L174.34,84.18 L174.82,82.43 L175.3,80.61 L175.79,78.77 L176.27,76.97 L176.76,75.26 L177.24,73.6 L177.72,71.98 L178.21,70.38 L178.69,68.8 L179.17,67.23 L179.66,65.67 L180.14,64.13 L180.62,62.6 L181.11,61.09 L181.59,59.58 L182.08,58.09 L182.56,56.59 L183.04,55.11 L183.53,53.63 L184.01,52.16 L184.49,50.71 L184.98,49.27 L185.46,47.86 L185.94,46.46 L186.43,45.08 L186.91,43.69 L187.39,42.29 L187.88,40.87 L188.36,39.45 L188.85,38.01 L189.33,36.57 L189.81,35.1 L190.3,33.62 L190.78,32.1 L191.26,30.54 L191.75,28.96 L192.23,27.38 L192.71,25.82 L193.2,24.29 L193.68,22.79 L194.17,21.3 L194.65,19.83 L195.13,18.37 L195.62,16.93 L196.1,15.5" fill="none" stroke="#C5171D" stroke-width="1"/>
<circle cx="52.6" cy="229.27" r="2.75" fill="url(#gr)"/>
<circle cx="55.47" cy="229.2" r="2.75" fill="url(#gr)"/>
<circle cx="58.34" cy="229.14" r="2.75" fill="url(#gr)"/>
<circle cx="61.21" cy="229.07" r="2.75" fill="url(#gr)"/>
<circle cx="64.08" cy="229.02" r="2.75" fill="url(#gr)"/>
<circle cx="66.95" cy="228.97" r="2.75" fill="url(#gr)"/>
<circle cx="69.82" cy="228.9" r="2.75" fill="url(#gr)"/>
<circle cx="72.69" cy="228.83" r="2.75" fill="url(#gr)"/>
<circle cx="75.56" cy="228.74" r="2.75" fill="url(#gr)"/>
<circle cx="78.43" cy="228.64" r="2.75" fill="url(#gr)"/>
<circle cx="81.3" cy="228.51" r="2.75" fill="url(#gr)"/>
<circle cx="84.17" cy="228.32" r="2.75" fill="url(#gr)"/>
<circle cx="87.04" cy="227.99" r="2.75" fill="url(#gr)"/>
<circle cx="89.91" cy="227.49" r="2.75" fill="url(#gr)"/>
<circle cx="92.78" cy="226.97" r="2.75" fill="url(#gr)"/>
<circle cx="95.65" cy="226.41" r="2.75" fill="url(#gr)"/>
<circle cx="98.52" cy="225.67" r="2.75" fill="url(#gr)"/>
<circle cx="101.39" cy="224.85" r="2.75" fill="url(#gr)"/>
<circle cx="104.26" cy="223.93" r="2.75" fill="url(#gr)"/>
<circle cx="107.13" cy="222.66" r="2.75" fill="url(#gr)"/>
<circle cx="110" cy="220.71" r="2.75" fill="url(#gr)"/>
<circle cx="112.87" cy="218.75" r="2.75" fill="url(#gr)"/>
<circle cx="115.74" cy="216.35" r="2.75" fill="url(#gr)"/>
<circle cx="118.61" cy="213.88" r="2.75" fill="url(#gr)"/>
<circle cx="121.48" cy="210.92" r="2.75" fill="url(#gr)"/>
<circle cx="124.35" cy="207.61" r="2.75" fill="url(#gr)"/>
<circle cx="127.22" cy="203.75" r="2.75" fill="url(#gr)"/>
<circle cx="130.09" cy="199.56" r="2.75" fill="url(#gr)"/>
<circle cx="132.96" cy="195.3" r="2.75" fill="url(#gr)"/>
<circle cx="135.83" cy="190.42" r="2.75" fill="url(#gr)"/>
<circle cx="138.7" cy="185.04" r="2.75" fill="url(#gr)"/>
<circle cx="141.57" cy="178.02" r="2.75" fill="url(#gr)"/>
<circle cx="144.44" cy="171.54" r="2.75" fill="url(#gr)"/>
<circle cx="147.31" cy="163.89" r="2.75" fill="url(#gr)"/>
<circle cx="150.18" cy="156.94" r="2.75" fill="url(#gr)"/>
<circle cx="153.05" cy="149.18" r="2.75" fill="url(#gr)"/>
<circle cx="155.92" cy="140.94" r="2.75" fill="url(#gr)"/>
<circle cx="158.79" cy="132.34" r="2.75" fill="url(#gr)"/>
<circle cx="161.66" cy="123.51" r="2.75" fill="url(#gr)"/>
<circle cx="164.53" cy="114.57" r="2.75" fill="url(#gr)"/>
<circle cx="167.4" cy="105.56" r="2.75" fill="url(#gr)"/>
<circle cx="170.27" cy="96.75" r="2.75" fill="url(#gr)"/>
<circle cx="173.14" cy="88.11" r="2.75" fill="url(#gr)"/>
<circle cx="176.01" cy="77.94" r="2.75" fill="url(#gr)"/>
<circle cx="178.88" cy="68.18" r="2.75" fill="url(#gr)"/>
<circle cx="181.75" cy="59.09" r="2.75" fill="url(#gr)"/>
<circle cx="184.62" cy="50.33" r="2.75" fill="url(#gr)"/>
<circle cx="187.49" cy="42.02" r="2.75" fill="url(#gr)"/>
<circle cx="190.36" cy="33.42" r="2.75" fill="url(#gr)"/>
<circle cx="193.23" cy="24.19" r="2.75" fill="url(#gr)"/>
<circle cx="196.1" cy="15.5" r="2.75" fill="url(#gr)"/>
</svg>
<rect x="50.8" y="12.55" width="273.7" height="219.35" fill="none" stroke="#000" stroke-width="1.45"/>
<line x1="55.5" y1="23.4" x2="81" y2="23.4" stroke="#C5171D" stroke-width="1"/>
<circle cx="68.6" cy="23.4" r="2.6" fill="url(#gr)"/>
<text x="84.1" y="27.3" font-size="11.6" fill="#C5171D" stroke="#C5171D" stroke-width="0.18" text-anchor="start">IrO<tspan dy="3.02" font-size="7.66">2</tspan><tspan dy="-3.02">(101) monolayer</tspan></text>
<line x1="55.5" y1="40.25" x2="81" y2="40.25" stroke="#FDBE5C" stroke-width="1"/>
<circle cx="68.6" cy="40.25" r="2.6" fill="url(#gy)"/>
<text x="84.1" y="44.15" font-size="11.6" fill="#FDBE5C" stroke="#FDBE5C" stroke-width="0.18" text-anchor="start">IrO<tspan dy="3.02" font-size="7.66">2</tspan><tspan dy="-3.02"> NP</tspan></text>
<line x1="55.5" y1="57.1" x2="81" y2="57.1" stroke="#0A4DB1" stroke-width="1"/>
<circle cx="68.6" cy="57.1" r="2.6" fill="url(#gb)"/>
<text x="84.1" y="61" font-size="11.6" fill="#0A4DB1" stroke="#0A4DB1" stroke-width="0.18" text-anchor="start">Comm IrO<tspan dy="3.02" font-size="7.66">2</tspan></text>
<line x1="55.5" y1="73.95" x2="81" y2="73.95" stroke="#168C7D" stroke-width="1"/>
<circle cx="68.6" cy="73.95" r="2.6" fill="url(#gt)"/>
<text x="84.1" y="77.85" font-size="11.6" fill="#168C7D" stroke="#168C7D" stroke-width="0.18" text-anchor="start">Comm IrO<tspan dy="3.02" font-size="7.66">X</tspan></text>
<line x1="55.5" y1="90.8" x2="81" y2="90.8" stroke="#9A9B94" stroke-width="1"/>
<circle cx="68.6" cy="90.8" r="2.6" fill="url(#gg)"/>
<text x="84.1" y="94.7" font-size="11.6" fill="#9A9B94" stroke="#9A9B94" stroke-width="0.18" text-anchor="start">Comm Ir black</text>
<text x="355.5" y="20.1" font-size="29" fill="#000" stroke="#000" stroke-width="0.18" text-anchor="start">b</text>
<line x1="407.35" y1="195.4" x2="411.45" y2="195.4" stroke="#000" stroke-width="1.45"/>
<text x="404.25" y="198.8" font-size="9.6" fill="#000" stroke="#000" stroke-width="0.18" text-anchor="end">1.45</text>
<line x1="407.35" y1="104.18" x2="411.45" y2="104.18" stroke="#000" stroke-width="1.45"/>
<text x="404.25" y="107.58" font-size="9.6" fill="#000" stroke="#000" stroke-width="0.18" text-anchor="end">1.50</text>
<line x1="407.35" y1="12.95" x2="411.45" y2="12.95" stroke="#000" stroke-width="1.45"/>
<text x="404.25" y="16.35" font-size="9.6" fill="#000" stroke="#000" stroke-width="0.18" text-anchor="end">1.55</text>
<line x1="409.15" y1="149.79" x2="411.45" y2="149.79" stroke="#000" stroke-width="1.45"/>
<line x1="409.15" y1="58.56" x2="411.45" y2="58.56" stroke="#000" stroke-width="1.45"/>
<line x1="411.45" y1="231.9" x2="411.45" y2="236.2" stroke="#000" stroke-width="1.45"/>
<text x="411.85" y="246.6" font-size="9.6" fill="#000" stroke="#000" stroke-width="0.18" text-anchor="middle">0.0</text>
<line x1="516.17" y1="231.9" x2="516.17" y2="236.2" stroke="#000" stroke-width="1.45"/>
<text x="516.57" y="246.6" font-size="9.6" fill="#000" stroke="#000" stroke-width="0.18" text-anchor="middle">0.5</text>
<line x1="620.9" y1="231.9" x2="620.9" y2="236.2" stroke="#000" stroke-width="1.45"/>
<text x="621.3" y="246.6" font-size="9.6" fill="#000" stroke="#000" stroke-width="0.18" text-anchor="middle">1.0</text>
<line x1="463.81" y1="231.9" x2="463.81" y2="234.2" stroke="#000" stroke-width="1.45"/>
<line x1="568.54" y1="231.9" x2="568.54" y2="234.2" stroke="#000" stroke-width="1.45"/>
<line x1="673.26" y1="231.9" x2="673.26" y2="234.2" stroke="#000" stroke-width="1.45"/>
<text x="547.7" y="264.8" font-size="13.6" fill="#000" stroke="#000" stroke-width="0.18" text-anchor="middle">log[Current density (mA cm<tspan dy="-6.39" font-size="8.98">-2</tspan><tspan dy="6.39">)]</tspan></text>
<text x="380" y="122.6" font-size="13.45" fill="#000" stroke="#000" stroke-width="0.18" text-anchor="middle" transform="rotate(-90 380 122.6)">iR-corrected Potential (V vs RHE)</text>
<rect x="503.25" y="195.65" width="3.3" height="3.3" fill="#C5171D"/>
<rect x="507.85" y="193.82" width="3.3" height="3.3" fill="#C5171D"/>
<rect x="512.44" y="191.99" width="3.3" height="3.3" fill="#C5171D"/>
<rect x="517.04" y="190.17" width="3.3" height="3.3" fill="#C5171D"/>
<rect x="521.63" y="188.34" width="3.3" height="3.3" fill="#C5171D"/>
<rect x="526.23" y="186.51" width="3.3" height="3.3" fill="#C5171D"/>
<rect x="530.83" y="184.68" width="3.3" height="3.3" fill="#C5171D"/>
<rect x="535.42" y="182.85" width="3.3" height="3.3" fill="#C5171D"/>
<rect x="540.02" y="181.03" width="3.3" height="3.3" fill="#C5171D"/>
<rect x="544.61" y="179.2" width="3.3" height="3.3" fill="#C5171D"/>
<rect x="549.21" y="177.37" width="3.3" height="3.3" fill="#C5171D"/>
<rect x="553.81" y="175.54" width="3.3" height="3.3" fill="#C5171D"/>
<rect x="558.4" y="173.71" width="3.3" height="3.3" fill="#C5171D"/>
<rect x="563" y="171.89" width="3.3" height="3.3" fill="#C5171D"/>
<rect x="567.59" y="170.06" width="3.3" height="3.3" fill="#C5171D"/>
<rect x="572.19" y="168.23" width="3.3" height="3.3" fill="#C5171D"/>
<rect x="576.79" y="166.4" width="3.3" height="3.3" fill="#C5171D"/>
<rect x="581.38" y="164.57" width="3.3" height="3.3" fill="#C5171D"/>
<rect x="585.98" y="162.75" width="3.3" height="3.3" fill="#C5171D"/>
<rect x="590.57" y="160.92" width="3.3" height="3.3" fill="#C5171D"/>
<rect x="595.17" y="159.09" width="3.3" height="3.3" fill="#C5171D"/>
<rect x="599.77" y="157.26" width="3.3" height="3.3" fill="#C5171D"/>
<rect x="604.36" y="155.43" width="3.3" height="3.3" fill="#C5171D"/>
<rect x="608.96" y="153.61" width="3.3" height="3.3" fill="#C5171D"/>
<rect x="613.55" y="151.78" width="3.3" height="3.3" fill="#C5171D"/>
<rect x="618.15" y="149.95" width="3.3" height="3.3" fill="#C5171D"/>
<rect x="430.35" y="150.85" width="3.3" height="3.3" fill="#0A4DB1"/>
<rect x="433.32" y="149.14" width="3.3" height="3.3" fill="#0A4DB1"/>
<rect x="436.3" y="147.43" width="3.3" height="3.3" fill="#0A4DB1"/>
<rect x="439.27" y="145.72" width="3.3" height="3.3" fill="#0A4DB1"/>
<rect x="442.24" y="144.01" width="3.3" height="3.3" fill="#0A4DB1"/>
<rect x="445.22" y="142.3" width="3.3" height="3.3" fill="#0A4DB1"/>
<rect x="448.19" y="140.59" width="3.3" height="3.3" fill="#0A4DB1"/>
<rect x="451.16" y="138.88" width="3.3" height="3.3" fill="#0A4DB1"/>
<rect x="454.14" y="137.17" width="3.3" height="3.3" fill="#0A4DB1"/>
<rect x="457.11" y="135.46" width="3.3" height="3.3" fill="#0A4DB1"/>
<rect x="460.08" y="133.75" width="3.3" height="3.3" fill="#0A4DB1"/>
<rect x="463.06" y="132.04" width="3.3" height="3.3" fill="#0A4DB1"/>
<rect x="466.03" y="130.33" width="3.3" height="3.3" fill="#0A4DB1"/>
<rect x="469" y="128.62" width="3.3" height="3.3" fill="#0A4DB1"/>
<rect x="471.98" y="126.91" width="3.3" height="3.3" fill="#0A4DB1"/>
<rect x="474.95" y="125.2" width="3.3" height="3.3" fill="#0A4DB1"/>
<rect x="477.92" y="123.49" width="3.3" height="3.3" fill="#0A4DB1"/>
<rect x="480.9" y="121.78" width="3.3" height="3.3" fill="#0A4DB1"/>
<rect x="483.87" y="120.07" width="3.3" height="3.3" fill="#0A4DB1"/>
<rect x="486.84" y="118.36" width="3.3" height="3.3" fill="#0A4DB1"/>
<rect x="489.82" y="116.65" width="3.3" height="3.3" fill="#0A4DB1"/>
<rect x="492.79" y="114.94" width="3.3" height="3.3" fill="#0A4DB1"/>
<rect x="495.76" y="113.23" width="3.3" height="3.3" fill="#0A4DB1"/>
<rect x="498.74" y="111.52" width="3.3" height="3.3" fill="#0A4DB1"/>
<rect x="501.71" y="109.81" width="3.3" height="3.3" fill="#0A4DB1"/>
<rect x="504.68" y="108.1" width="3.3" height="3.3" fill="#0A4DB1"/>
<rect x="507.66" y="106.39" width="3.3" height="3.3" fill="#0A4DB1"/>
<rect x="510.63" y="104.68" width="3.3" height="3.3" fill="#0A4DB1"/>
<rect x="513.6" y="102.97" width="3.3" height="3.3" fill="#0A4DB1"/>
<rect x="516.58" y="101.26" width="3.3" height="3.3" fill="#0A4DB1"/>
<rect x="519.55" y="99.55" width="3.3" height="3.3" fill="#0A4DB1"/>
<rect x="487.45" y="167.45" width="3.3" height="3.3" fill="#168C7D"/>
<rect x="490.54" y="165.73" width="3.3" height="3.3" fill="#168C7D"/>
<rect x="493.63" y="164.01" width="3.3" height="3.3" fill="#168C7D"/>
<rect x="496.71" y="162.29" width="3.3" height="3.3" fill="#168C7D"/>
<rect x="499.8" y="160.57" width="3.3" height="3.3" fill="#168C7D"/>
<rect x="502.89" y="158.85" width="3.3" height="3.3" fill="#168C7D"/>
<rect x="505.98" y="157.12" width="3.3" height="3.3" fill="#168C7D"/>
<rect x="509.06" y="155.4" width="3.3" height="3.3" fill="#168C7D"/>
<rect x="512.15" y="153.68" width="3.3" height="3.3" fill="#168C7D"/>
<rect x="515.24" y="151.96" width="3.3" height="3.3" fill="#168C7D"/>
<rect x="518.33" y="150.24" width="3.3" height="3.3" fill="#168C7D"/>
<rect x="521.41" y="148.52" width="3.3" height="3.3" fill="#168C7D"/>
<rect x="524.5" y="146.8" width="3.3" height="3.3" fill="#168C7D"/>
<rect x="527.59" y="145.08" width="3.3" height="3.3" fill="#168C7D"/>
<rect x="530.68" y="143.36" width="3.3" height="3.3" fill="#168C7D"/>
<rect x="533.76" y="141.64" width="3.3" height="3.3" fill="#168C7D"/>
<rect x="536.85" y="139.92" width="3.3" height="3.3" fill="#168C7D"/>
<rect x="539.94" y="138.2" width="3.3" height="3.3" fill="#168C7D"/>
<rect x="543.03" y="136.47" width="3.3" height="3.3" fill="#168C7D"/>
<rect x="546.11" y="134.75" width="3.3" height="3.3" fill="#168C7D"/>
<rect x="549.2" y="133.03" width="3.3" height="3.3" fill="#168C7D"/>
<rect x="552.29" y="131.31" width="3.3" height="3.3" fill="#168C7D"/>
<rect x="555.38" y="129.59" width="3.3" height="3.3" fill="#168C7D"/>
<rect x="558.46" y="127.87" width="3.3" height="3.3" fill="#168C7D"/>
<rect x="561.55" y="126.15" width="3.3" height="3.3" fill="#168C7D"/>
<rect x="535.8" y="108.9" width="3.4" height="3.4" fill="#FDBE5C"/>
<rect x="538.02" y="107.36" width="3.4" height="3.4" fill="#FDBE5C"/>
<rect x="540.23" y="105.82" width="3.4" height="3.4" fill="#FDBE5C"/>
<rect x="542.45" y="104.28" width="3.4" height="3.4" fill="#FDBE5C"/>
<rect x="544.67" y="102.73" width="3.4" height="3.4" fill="#FDBE5C"/>
<rect x="546.89" y="101.19" width="3.4" height="3.4" fill="#FDBE5C"/>
<rect x="549.1" y="99.65" width="3.4" height="3.4" fill="#FDBE5C"/>
<rect x="551.32" y="98.11" width="3.4" height="3.4" fill="#FDBE5C"/>
<rect x="553.54" y="96.57" width="3.4" height="3.4" fill="#FDBE5C"/>
<rect x="555.75" y="95.03" width="3.4" height="3.4" fill="#FDBE5C"/>
<rect x="557.97" y="93.49" width="3.4" height="3.4" fill="#FDBE5C"/>
<rect x="560.19" y="91.94" width="3.4" height="3.4" fill="#FDBE5C"/>
<rect x="562.4" y="90.4" width="3.4" height="3.4" fill="#FDBE5C"/>
<rect x="564.62" y="88.86" width="3.4" height="3.4" fill="#FDBE5C"/>
<rect x="566.84" y="87.32" width="3.4" height="3.4" fill="#FDBE5C"/>
<rect x="569.06" y="85.78" width="3.4" height="3.4" fill="#FDBE5C"/>
<rect x="571.27" y="84.24" width="3.4" height="3.4" fill="#FDBE5C"/>
<rect x="573.49" y="82.7" width="3.4" height="3.4" fill="#FDBE5C"/>
<rect x="575.71" y="81.15" width="3.4" height="3.4" fill="#FDBE5C"/>
<rect x="577.92" y="79.61" width="3.4" height="3.4" fill="#FDBE5C"/>
<rect x="580.14" y="78.07" width="3.4" height="3.4" fill="#FDBE5C"/>
<rect x="582.36" y="76.53" width="3.4" height="3.4" fill="#FDBE5C"/>
<rect x="584.58" y="74.99" width="3.4" height="3.4" fill="#FDBE5C"/>
<rect x="586.79" y="73.45" width="3.4" height="3.4" fill="#FDBE5C"/>
<rect x="589.01" y="71.9" width="3.4" height="3.4" fill="#FDBE5C"/>
<rect x="591.23" y="70.36" width="3.4" height="3.4" fill="#FDBE5C"/>
<rect x="593.44" y="68.82" width="3.4" height="3.4" fill="#FDBE5C"/>
<rect x="595.66" y="67.28" width="3.4" height="3.4" fill="#FDBE5C"/>
<rect x="597.88" y="65.74" width="3.4" height="3.4" fill="#FDBE5C"/>
<rect x="600.1" y="64.2" width="3.4" height="3.4" fill="#FDBE5C"/>
<rect x="602.31" y="62.66" width="3.4" height="3.4" fill="#FDBE5C"/>
<rect x="604.53" y="61.11" width="3.4" height="3.4" fill="#FDBE5C"/>
<rect x="606.75" y="59.57" width="3.4" height="3.4" fill="#FDBE5C"/>
<rect x="608.96" y="58.03" width="3.4" height="3.4" fill="#FDBE5C"/>
<rect x="611.18" y="56.49" width="3.4" height="3.4" fill="#FDBE5C"/>
<rect x="613.4" y="54.95" width="3.4" height="3.4" fill="#FDBE5C"/>
<rect x="615.61" y="53.41" width="3.4" height="3.4" fill="#FDBE5C"/>
<rect x="617.83" y="51.87" width="3.4" height="3.4" fill="#FDBE5C"/>
<rect x="620.05" y="50.32" width="3.4" height="3.4" fill="#FDBE5C"/>
<rect x="622.27" y="48.78" width="3.4" height="3.4" fill="#FDBE5C"/>
<rect x="624.48" y="47.24" width="3.4" height="3.4" fill="#FDBE5C"/>
<rect x="626.7" y="45.7" width="3.4" height="3.4" fill="#FDBE5C"/>
<rect x="616.05" y="83.95" width="3.3" height="3.3" fill="#9A9B94"/>
<rect x="618.48" y="82.25" width="3.3" height="3.3" fill="#9A9B94"/>
<rect x="620.92" y="80.54" width="3.3" height="3.3" fill="#9A9B94"/>
<rect x="623.35" y="78.84" width="3.3" height="3.3" fill="#9A9B94"/>
<rect x="625.78" y="77.13" width="3.3" height="3.3" fill="#9A9B94"/>
<rect x="628.22" y="75.43" width="3.3" height="3.3" fill="#9A9B94"/>
<rect x="630.65" y="73.72" width="3.3" height="3.3" fill="#9A9B94"/>
<rect x="633.08" y="72.02" width="3.3" height="3.3" fill="#9A9B94"/>
<rect x="635.52" y="70.31" width="3.3" height="3.3" fill="#9A9B94"/>
<rect x="637.95" y="68.61" width="3.3" height="3.3" fill="#9A9B94"/>
<rect x="640.38" y="66.9" width="3.3" height="3.3" fill="#9A9B94"/>
<rect x="642.82" y="65.2" width="3.3" height="3.3" fill="#9A9B94"/>
<rect x="645.25" y="63.49" width="3.3" height="3.3" fill="#9A9B94"/>
<rect x="647.68" y="61.79" width="3.3" height="3.3" fill="#9A9B94"/>
<rect x="650.12" y="60.08" width="3.3" height="3.3" fill="#9A9B94"/>
<rect x="652.55" y="58.38" width="3.3" height="3.3" fill="#9A9B94"/>
<rect x="654.98" y="56.67" width="3.3" height="3.3" fill="#9A9B94"/>
<rect x="657.42" y="54.97" width="3.3" height="3.3" fill="#9A9B94"/>
<rect x="659.85" y="53.26" width="3.3" height="3.3" fill="#9A9B94"/>
<rect x="662.28" y="51.56" width="3.3" height="3.3" fill="#9A9B94"/>
<rect x="664.72" y="49.85" width="3.3" height="3.3" fill="#9A9B94"/>
<rect x="667.15" y="48.15" width="3.3" height="3.3" fill="#9A9B94"/>
<rect x="411.6" y="203" width="1.6" height="3" fill="#168C7D"/>
<rect x="411.45" y="12.95" width="272.25" height="218.95" fill="none" stroke="#000" stroke-width="1.45"/>
<text x="438" y="143" font-size="11.6" fill="#0A4DB1" stroke="#0A4DB1" stroke-width="0.18" text-anchor="start" transform="rotate(-30.5 438 143)">70.28 mV dec<tspan dy="-4.18" font-size="7.66">-1</tspan></text>
<text x="495.5" y="160.5" font-size="11.6" fill="#168C7D" stroke="#168C7D" stroke-width="0.18" text-anchor="start" transform="rotate(-28.5 495.5 160.5)">65.19 mV dec<tspan dy="-4.18" font-size="7.66">-1</tspan></text>
<text x="522" y="183.5" font-size="11.6" fill="#C5171D" stroke="#C5171D" stroke-width="0.18" text-anchor="start" transform="rotate(-21.0 522 183.5)">44.73 mV dec<tspan dy="-4.18" font-size="7.66">-1</tspan></text>
<text x="549" y="92.5" font-size="11.6" fill="#FDBE5C" stroke="#FDBE5C" stroke-width="0.18" text-anchor="start" transform="rotate(-34.8 549 92.5)">83.06 mV dec<tspan dy="-4.18" font-size="7.66">-1</tspan></text>
<text x="613.3" y="81" font-size="11.6" fill="#9A9B94" stroke="#9A9B94" stroke-width="0.18" text-anchor="start" transform="rotate(-34.5 613.3 81)">80.97 mV dec<tspan dy="-4.18" font-size="7.66">-1</tspan></text>
<rect x="420.5" y="21.9" width="3.4" height="3.4" fill="#C5171D"/>
<text x="438" y="27.5" font-size="11.6" fill="#C5171D" stroke="#C5171D" stroke-width="0.18" text-anchor="start">IrO<tspan dy="3.02" font-size="7.66">2</tspan><tspan dy="-3.02">(101) monolayer</tspan></text>
<rect x="420.5" y="38.7" width="3.4" height="3.4" fill="#FDBE5C"/>
<text x="438" y="44.3" font-size="11.6" fill="#FDBE5C" stroke="#FDBE5C" stroke-width="0.18" text-anchor="start">IrO<tspan dy="3.02" font-size="7.66">2</tspan><tspan dy="-3.02"> NP</tspan></text>
<rect x="420.5" y="55.5" width="3.4" height="3.4" fill="#0A4DB1"/>
<text x="438" y="61.1" font-size="11.6" fill="#0A4DB1" stroke="#0A4DB1" stroke-width="0.18" text-anchor="start">Comm IrO<tspan dy="3.02" font-size="7.66">2</tspan></text>
<rect x="420.5" y="72.3" width="3.4" height="3.4" fill="#168C7D"/>
<text x="438" y="77.9" font-size="11.6" fill="#168C7D" stroke="#168C7D" stroke-width="0.18" text-anchor="start">Comm IrO<tspan dy="3.02" font-size="7.66">X</tspan></text>
<rect x="420.5" y="89.1" width="3.4" height="3.4" fill="#9A9B94"/>
<text x="438" y="94.7" font-size="11.6" fill="#9A9B94" stroke="#9A9B94" stroke-width="0.18" text-anchor="start">Comm Ir black</text>
<text x="0.9" y="299.6" font-size="33" fill="#000" stroke="#000" stroke-width="0.18" text-anchor="start">c</text>
<line x1="44.9" y1="510.9" x2="48.9" y2="510.9" stroke="#000" stroke-width="1.45"/>
<text x="42.7" y="514.3" font-size="9.6" fill="#000" stroke="#000" stroke-width="0.18" text-anchor="end">0</text>
<line x1="44.9" y1="470.74" x2="48.9" y2="470.74" stroke="#000" stroke-width="1.45"/>
<text x="42.7" y="474.14" font-size="9.6" fill="#000" stroke="#000" stroke-width="0.18" text-anchor="end">50</text>
<line x1="44.9" y1="430.58" x2="48.9" y2="430.58" stroke="#000" stroke-width="1.45"/>
<text x="42.7" y="433.98" font-size="9.6" fill="#000" stroke="#000" stroke-width="0.18" text-anchor="end">100</text>
<line x1="44.9" y1="390.42" x2="48.9" y2="390.42" stroke="#000" stroke-width="1.45"/>
<text x="42.7" y="393.82" font-size="9.6" fill="#000" stroke="#000" stroke-width="0.18" text-anchor="end">150</text>
<line x1="44.9" y1="350.26" x2="48.9" y2="350.26" stroke="#000" stroke-width="1.45"/>
<text x="42.7" y="353.66" font-size="9.6" fill="#000" stroke="#000" stroke-width="0.18" text-anchor="end">200</text>
<line x1="44.9" y1="310.1" x2="48.9" y2="310.1" stroke="#000" stroke-width="1.45"/>
<text x="42.7" y="313.5" font-size="9.6" fill="#000" stroke="#000" stroke-width="0.18" text-anchor="end">250</text>
<line x1="46.6" y1="490.82" x2="48.9" y2="490.82" stroke="#000" stroke-width="1.45"/>
<line x1="46.6" y1="450.66" x2="48.9" y2="450.66" stroke="#000" stroke-width="1.45"/>
<line x1="46.6" y1="410.5" x2="48.9" y2="410.5" stroke="#000" stroke-width="1.45"/>
<line x1="46.6" y1="370.34" x2="48.9" y2="370.34" stroke="#000" stroke-width="1.45"/>
<line x1="46.6" y1="330.18" x2="48.9" y2="330.18" stroke="#000" stroke-width="1.45"/>
<line x1="46.6" y1="290.02" x2="48.9" y2="290.02" stroke="#000" stroke-width="1.45"/>
<rect x="84.2" y="319.34" width="21" height="191.56" fill="#C5171D"/>
<rect x="130" y="495.56" width="21" height="15.34" fill="#FDBE5C"/>
<rect x="175.4" y="496.44" width="21" height="14.46" fill="#0A4DB1"/>
<rect x="220.9" y="486.08" width="21" height="24.82" fill="#168C7D"/>
<rect x="266.4" y="497.17" width="21" height="13.73" fill="#9A9B94"/>
<rect x="48.9" y="290.4" width="273.55" height="220.5" fill="none" stroke="#000" stroke-width="1.45"/>
<text x="19.3" y="400.75" font-size="13.42" fill="#000" stroke="#000" stroke-width="0.18" text-anchor="middle" transform="rotate(-90 19.3 400.75)">Mass Activity (mA mg<tspan dy="3.49" font-size="8.86">Ir</tspan><tspan dy="-3.49"> </tspan><tspan dy="-6.31" font-size="8.86">-1</tspan><tspan dy="6.31">)</tspan></text>
<text x="54.3" y="313.8" font-size="11.6" fill="#C5171D" stroke="#C5171D" stroke-width="0.18" text-anchor="start">IrO<tspan dy="3.02" font-size="7.66">2</tspan><tspan dy="-3.02">(101) monolayer</tspan></text>
<text x="317.8" y="308.3" font-size="12.65" fill="#000" stroke="#000" stroke-width="0.18" text-anchor="end">1.5 V vs RHE</text>
<text x="143.8" y="492.8" font-size="11.6" fill="#FDBE5C" stroke="#FDBE5C" stroke-width="0.18" text-anchor="start" transform="rotate(-90 143.8 492.8)">IrO<tspan dy="3.02" font-size="7.66">2</tspan><tspan dy="-3.02"> NP</tspan></text>
<text x="189.2" y="494" font-size="11.6" fill="#0A4DB1" stroke="#0A4DB1" stroke-width="0.18" text-anchor="start" transform="rotate(-90 189.2 494)">Comm IrO<tspan dy="3.02" font-size="7.66">2</tspan></text>
<text x="234.8" y="484" font-size="11.6" fill="#168C7D" stroke="#168C7D" stroke-width="0.18" text-anchor="start" transform="rotate(-90 234.8 484)">Comm IrO<tspan dy="3.02" font-size="7.66">X</tspan></text>
<text x="279.9" y="495.4" font-size="11.6" fill="#9A9B94" stroke="#9A9B94" stroke-width="0.18" text-anchor="start" transform="rotate(-90 279.9 495.4)">Comm Ir black</text>
<text x="362" y="297.3" font-size="29" fill="#000" stroke="#000" stroke-width="0.18" text-anchor="start">d</text>
<line x1="407" y1="509.3" x2="411" y2="509.3" stroke="#000" stroke-width="1.45"/>
<text x="404.4" y="512.7" font-size="9.6" fill="#000" stroke="#000" stroke-width="0.18" text-anchor="end">0</text>
<line x1="407" y1="448.43" x2="411" y2="448.43" stroke="#000" stroke-width="1.45"/>
<text x="404.4" y="451.82" font-size="9.6" fill="#000" stroke="#000" stroke-width="0.18" text-anchor="end">50</text>
<line x1="407" y1="387.55" x2="411" y2="387.55" stroke="#000" stroke-width="1.45"/>
<text x="404.4" y="390.95" font-size="9.6" fill="#000" stroke="#000" stroke-width="0.18" text-anchor="end">100</text>
<line x1="407" y1="326.68" x2="411" y2="326.68" stroke="#000" stroke-width="1.45"/>
<text x="404.4" y="330.07" font-size="9.6" fill="#000" stroke="#000" stroke-width="0.18" text-anchor="end">150</text>
<line x1="408.7" y1="478.86" x2="411" y2="478.86" stroke="#000" stroke-width="1.45"/>
<line x1="408.7" y1="417.99" x2="411" y2="417.99" stroke="#000" stroke-width="1.45"/>
<line x1="408.7" y1="357.11" x2="411" y2="357.11" stroke="#000" stroke-width="1.45"/>
<line x1="408.7" y1="296.24" x2="411" y2="296.24" stroke="#000" stroke-width="1.45"/>
<line x1="411" y1="509.7" x2="411" y2="514" stroke="#000" stroke-width="1.45"/>
<text x="411.3" y="523.9" font-size="9.6" fill="#000" stroke="#000" stroke-width="0.18" text-anchor="middle">0</text>
<line x1="471.58" y1="509.7" x2="471.58" y2="514" stroke="#000" stroke-width="1.45"/>
<text x="471.88" y="523.9" font-size="9.6" fill="#000" stroke="#000" stroke-width="0.18" text-anchor="middle">20</text>
<line x1="532.16" y1="509.7" x2="532.16" y2="514" stroke="#000" stroke-width="1.45"/>
<text x="532.46" y="523.9" font-size="9.6" fill="#000" stroke="#000" stroke-width="0.18" text-anchor="middle">40</text>
<line x1="592.74" y1="509.7" x2="592.74" y2="514" stroke="#000" stroke-width="1.45"/>
<text x="593.04" y="523.9" font-size="9.6" fill="#000" stroke="#000" stroke-width="0.18" text-anchor="middle">60</text>
<line x1="653.32" y1="509.7" x2="653.32" y2="514" stroke="#000" stroke-width="1.45"/>
<text x="653.62" y="523.9" font-size="9.6" fill="#000" stroke="#000" stroke-width="0.18" text-anchor="middle">80</text>
<line x1="441.29" y1="509.7" x2="441.29" y2="512" stroke="#000" stroke-width="1.45"/>
<line x1="501.87" y1="509.7" x2="501.87" y2="512" stroke="#000" stroke-width="1.45"/>
<line x1="562.45" y1="509.7" x2="562.45" y2="512" stroke="#000" stroke-width="1.45"/>
<line x1="623.03" y1="509.7" x2="623.03" y2="512" stroke="#000" stroke-width="1.45"/>
<line x1="683.61" y1="509.7" x2="683.61" y2="512" stroke="#000" stroke-width="1.45"/>
<text x="547.45" y="543.9" font-size="13.8" fill="#000" stroke="#000" stroke-width="0.18" text-anchor="middle">Time (h)</text>
<text x="385.1" y="399.8" font-size="13.55" fill="#000" stroke="#000" stroke-width="0.18" text-anchor="middle" transform="rotate(-90 385.1 399.8)">Current density (mA cm<tspan dy="-6.37" font-size="8.94">-2</tspan><tspan dy="6.37">)</tspan></text>
<text x="680.2" y="307" font-size="12.65" fill="#000" stroke="#000" stroke-width="0.18" text-anchor="end">1.6 V vs RHE</text>
<svg x="411.0" y="290.1" width="272.70000000000005" height="219.59999999999997" viewBox="411.0 290.1 272.70000000000005 219.59999999999997" overflow="hidden">
<rect x="413.5" y="336.8" width="4.6" height="4.6" fill="#C5171D"/>
<rect x="418.6" y="339.9" width="4.6" height="4.6" fill="#C5171D"/>
<rect x="423.6" y="339.6" width="4.6" height="4.6" fill="#C5171D"/>
<rect x="428.6" y="342.4" width="4.6" height="4.6" fill="#C5171D"/>
<rect x="433.6" y="342.9" width="4.6" height="4.6" fill="#C5171D"/>
<rect x="438.6" y="344.1" width="4.6" height="4.6" fill="#C5171D"/>
<rect x="443.6" y="342.9" width="4.6" height="4.6" fill="#C5171D"/>
<rect x="448.6" y="342.9" width="4.6" height="4.6" fill="#C5171D"/>
<rect x="454.1" y="347.9" width="4.6" height="4.6" fill="#C5171D"/>
<rect x="459.2" y="342.4" width="4.6" height="4.6" fill="#C5171D"/>
<rect x="464.2" y="338.4" width="4.6" height="4.6" fill="#C5171D"/>
<rect x="469.2" y="335.3" width="4.6" height="4.6" fill="#C5171D"/>
<rect x="474.2" y="339.1" width="4.6" height="4.6" fill="#C5171D"/>
<rect x="479.2" y="341.6" width="4.6" height="4.6" fill="#C5171D"/>
<rect x="484.2" y="344.1" width="4.6" height="4.6" fill="#C5171D"/>
<rect x="489.2" y="345.4" width="4.6" height="4.6" fill="#C5171D"/>
<rect x="494.2" y="343.4" width="4.6" height="4.6" fill="#C5171D"/>
<rect x="499.3" y="345.4" width="4.6" height="4.6" fill="#C5171D"/>
<rect x="504.3" y="346.6" width="4.6" height="4.6" fill="#C5171D"/>
<rect x="509.3" y="345.9" width="4.6" height="4.6" fill="#C5171D"/>
<rect x="514.5" y="343.7" width="4.6" height="4.6" fill="#C5171D"/>
<rect x="519.7" y="345.1" width="4.6" height="4.6" fill="#C5171D"/>
<rect x="524.6" y="345.1" width="4.6" height="4.6" fill="#C5171D"/>
<rect x="529.6" y="343.3" width="4.6" height="4.6" fill="#C5171D"/>
<rect x="534.5" y="345.6" width="4.6" height="4.6" fill="#C5171D"/>
<rect x="539.5" y="342.6" width="4.6" height="4.6" fill="#C5171D"/>
<rect x="544.5" y="341.3" width="4.6" height="4.6" fill="#C5171D"/>
<rect x="549.4" y="343.3" width="4.6" height="4.6" fill="#C5171D"/>
<rect x="554.4" y="345.6" width="4.6" height="4.6" fill="#C5171D"/>
<rect x="559.8" y="342.1" width="4.6" height="4.6" fill="#C5171D"/>
<rect x="564.8" y="343.8" width="4.6" height="4.6" fill="#C5171D"/>
<rect x="569.8" y="345.1" width="4.6" height="4.6" fill="#C5171D"/>
<rect x="574.7" y="343.3" width="4.6" height="4.6" fill="#C5171D"/>
<rect x="579.7" y="344.6" width="4.6" height="4.6" fill="#C5171D"/>
<rect x="584.7" y="345.1" width="4.6" height="4.6" fill="#C5171D"/>
<rect x="590.1" y="343.8" width="4.6" height="4.6" fill="#C5171D"/>
<rect x="595.3" y="338.1" width="4.6" height="4.6" fill="#C5171D"/>
<rect x="600.3" y="343.1" width="4.6" height="4.6" fill="#C5171D"/>
<rect x="605.3" y="341.3" width="4.6" height="4.6" fill="#C5171D"/>
<rect x="610.2" y="341.3" width="4.6" height="4.6" fill="#C5171D"/>
<rect x="615.2" y="343.1" width="4.6" height="4.6" fill="#C5171D"/>
<rect x="620.1" y="342.1" width="4.6" height="4.6" fill="#C5171D"/>
<rect x="625.1" y="343.1" width="4.6" height="4.6" fill="#C5171D"/>
<rect x="630.1" y="341.8" width="4.6" height="4.6" fill="#C5171D"/>
<rect x="635.5" y="341.3" width="4.6" height="4.6" fill="#C5171D"/>
<rect x="640.5" y="339.6" width="4.6" height="4.6" fill="#C5171D"/>
<rect x="645.5" y="343.8" width="4.6" height="4.6" fill="#C5171D"/>
<rect x="650.4" y="343.1" width="4.6" height="4.6" fill="#C5171D"/>
<rect x="655.4" y="341.3" width="4.6" height="4.6" fill="#C5171D"/>
<rect x="660.8" y="344.3" width="4.6" height="4.6" fill="#C5171D"/>
<rect x="665.8" y="345.8" width="4.6" height="4.6" fill="#C5171D"/>
<rect x="670.8" y="343.8" width="4.6" height="4.6" fill="#C5171D"/>
<rect x="675.7" y="344.6" width="4.6" height="4.6" fill="#C5171D"/>
<rect x="680.2" y="345.8" width="4.6" height="4.6" fill="#C5171D"/>
<rect x="409.7" y="450.4" width="4.6" height="4.6" fill="#168C7D"/>
<rect x="413.8" y="469.6" width="4.6" height="4.6" fill="#168C7D"/>
<rect x="418.7" y="474.1" width="4.6" height="4.6" fill="#168C7D"/>
<rect x="423.6" y="476.2" width="4.6" height="4.6" fill="#168C7D"/>
<rect x="428.7" y="478.6" width="4.6" height="4.6" fill="#168C7D"/>
<rect x="433.6" y="478.3" width="4.6" height="4.6" fill="#168C7D"/>
<rect x="438.6" y="478.3" width="4.6" height="4.6" fill="#168C7D"/>
<rect x="443.7" y="477.9" width="4.6" height="4.6" fill="#168C7D"/>
<rect x="448.8" y="479.2" width="4.6" height="4.6" fill="#168C7D"/>
<rect x="453.9" y="479.2" width="4.6" height="4.6" fill="#168C7D"/>
<rect x="459" y="479.4" width="4.6" height="4.6" fill="#168C7D"/>
<rect x="464" y="479.8" width="4.6" height="4.6" fill="#168C7D"/>
<rect x="469.1" y="479.4" width="4.6" height="4.6" fill="#168C7D"/>
<rect x="474.4" y="480.8" width="4.6" height="4.6" fill="#168C7D"/>
<rect x="479.4" y="480.6" width="4.6" height="4.6" fill="#168C7D"/>
<rect x="484.3" y="482.1" width="4.6" height="4.6" fill="#168C7D"/>
<rect x="489.3" y="483" width="4.6" height="4.6" fill="#168C7D"/>
<rect x="494.2" y="484.3" width="4.6" height="4.6" fill="#168C7D"/>
<rect x="499.5" y="485" width="4.6" height="4.6" fill="#168C7D"/>
<rect x="504.4" y="485.5" width="4.6" height="4.6" fill="#168C7D"/>
<rect x="509.4" y="486" width="4.6" height="4.6" fill="#168C7D"/>
<rect x="514.3" y="486.3" width="4.6" height="4.6" fill="#168C7D"/>
<rect x="519.3" y="485.5" width="4.6" height="4.6" fill="#168C7D"/>
<rect x="524.3" y="485" width="4.6" height="4.6" fill="#168C7D"/>
<rect x="529.7" y="483.5" width="4.6" height="4.6" fill="#168C7D"/>
<rect x="534.7" y="483.8" width="4.6" height="4.6" fill="#168C7D"/>
<rect x="539.7" y="484.5" width="4.6" height="4.6" fill="#168C7D"/>
<rect x="544.6" y="483.5" width="4.6" height="4.6" fill="#168C7D"/>
<rect x="549.6" y="484.3" width="4.6" height="4.6" fill="#168C7D"/>
<rect x="554.5" y="484.5" width="4.6" height="4.6" fill="#168C7D"/>
<rect x="559.5" y="484.5" width="4.6" height="4.6" fill="#168C7D"/>
<rect x="565" y="483.8" width="4.6" height="4.6" fill="#168C7D"/>
<rect x="569.9" y="484.3" width="4.6" height="4.6" fill="#168C7D"/>
<rect x="574.9" y="484.5" width="4.6" height="4.6" fill="#168C7D"/>
<rect x="579.9" y="485.8" width="4.6" height="4.6" fill="#168C7D"/>
<rect x="584.8" y="485.8" width="4.6" height="4.6" fill="#168C7D"/>
<rect x="590" y="485" width="4.6" height="4.6" fill="#168C7D"/>
<rect x="595.5" y="483.8" width="4.6" height="4.6" fill="#168C7D"/>
<rect x="600.5" y="484.5" width="4.6" height="4.6" fill="#168C7D"/>
<rect x="605.4" y="484.5" width="4.6" height="4.6" fill="#168C7D"/>
<rect x="610.4" y="484.5" width="4.6" height="4.6" fill="#168C7D"/>
<rect x="615.8" y="484.5" width="4.6" height="4.6" fill="#168C7D"/>
<rect x="621.5" y="484.3" width="4.6" height="4.6" fill="#168C7D"/>
<rect x="409.7" y="470.9" width="4.6" height="4.6" fill="#9A9B94"/>
<rect x="414.7" y="490.2" width="4.6" height="4.6" fill="#9A9B94"/>
<rect x="419.7" y="492.5" width="4.6" height="4.6" fill="#9A9B94"/>
<rect x="424.7" y="493.7" width="4.6" height="4.6" fill="#9A9B94"/>
<rect x="429.7" y="494.5" width="4.6" height="4.6" fill="#9A9B94"/>
<rect x="434.7" y="495" width="4.6" height="4.6" fill="#9A9B94"/>
<rect x="439.7" y="495.3" width="4.6" height="4.6" fill="#9A9B94"/>
<rect x="445.6" y="495.6" width="4.6" height="4.6" fill="#9A9B94"/>
<rect x="410.1" y="479.2" width="4.6" height="4.6" fill="#FDBE5C"/>
<rect x="414.5" y="490.2" width="4.6" height="4.6" fill="#FDBE5C"/>
<rect x="419.3" y="492.6" width="4.6" height="4.6" fill="#FDBE5C"/>
<rect x="424.1" y="493.5" width="4.6" height="4.6" fill="#FDBE5C"/>
<rect x="428.9" y="494.3" width="4.6" height="4.6" fill="#FDBE5C"/>
<rect x="434.1" y="494.9" width="4.6" height="4.6" fill="#FDBE5C"/>
<rect x="439.2" y="495.5" width="4.6" height="4.6" fill="#FDBE5C"/>
<rect x="410.4" y="489.7" width="4.6" height="4.6" fill="#0A4DB1"/>
<rect x="414.6" y="493.5" width="4.6" height="4.6" fill="#0A4DB1"/>
<rect x="419.6" y="495.5" width="4.6" height="4.6" fill="#0A4DB1"/>
<rect x="424.7" y="497.4" width="4.6" height="4.6" fill="#0A4DB1"/>
<rect x="429.6" y="498.7" width="4.6" height="4.6" fill="#0A4DB1"/>
<rect x="434.7" y="499.7" width="4.6" height="4.6" fill="#0A4DB1"/>
<rect x="439.8" y="500.3" width="4.6" height="4.6" fill="#0A4DB1"/>
<rect x="445" y="500.6" width="4.6" height="4.6" fill="#0A4DB1"/>
<rect x="449.8" y="500.6" width="4.6" height="4.6" fill="#0A4DB1"/>
<rect x="454.9" y="500.1" width="4.6" height="4.6" fill="#0A4DB1"/>
<rect x="458.7" y="500.1" width="4.6" height="4.6" fill="#0A4DB1"/>
</svg>
<rect x="411" y="290.1" width="272.7" height="219.6" fill="none" stroke="#000" stroke-width="1.45"/>
<rect x="422.15" y="373.9" width="4.8" height="4.8" fill="#C5171D"/>
<text x="440.5" y="380.3" font-size="11.45" fill="#C5171D" stroke="#C5171D" stroke-width="0.18" text-anchor="start">IrO<tspan dy="2.98" font-size="7.56">2</tspan><tspan dy="-2.98">(101) monolayer</tspan></text>
<rect x="422.15" y="391" width="4.8" height="4.8" fill="#FDBE5C"/>
<text x="440.5" y="397.4" font-size="11.45" fill="#FDBE5C" stroke="#FDBE5C" stroke-width="0.18" text-anchor="start">IrO<tspan dy="2.98" font-size="7.56">2</tspan><tspan dy="-2.98"> NP</tspan></text>
<rect x="422.15" y="408" width="4.8" height="4.8" fill="#0A4DB1"/>
<text x="440.5" y="414.4" font-size="11.45" fill="#0A4DB1" stroke="#0A4DB1" stroke-width="0.18" text-anchor="start">Comm IrO<tspan dy="2.98" font-size="7.56">2</tspan></text>
<rect x="422.15" y="424.8" width="4.8" height="4.8" fill="#168C7D"/>
<text x="440.5" y="431.2" font-size="11.45" fill="#168C7D" stroke="#168C7D" stroke-width="0.18" text-anchor="start">Comm IrOx</text>
<rect x="422.15" y="438.7" width="4.8" height="4.8" fill="#9A9B94"/>
<text x="440.5" y="445.1" font-size="11.45" fill="#9A9B94" stroke="#9A9B94" stroke-width="0.18" text-anchor="start">Comm Ir black</text>
<rect x="560.2" y="357.8" width="120.2" height="97" fill="#fff" stroke="#505050" stroke-width="1.1"/>
<line x1="558.2" y1="454.3" x2="560.2" y2="454.3" stroke="#000" stroke-width="0.8"/>
<text x="557.6" y="456.3" font-size="5.6" fill="#000" stroke="#000" stroke-width="0.18" text-anchor="end">0</text>
<line x1="558.2" y1="411.3" x2="560.2" y2="411.3" stroke="#000" stroke-width="0.8"/>
<text x="557.6" y="413.3" font-size="5.6" fill="#000" stroke="#000" stroke-width="0.18" text-anchor="end">20</text>
<line x1="558.2" y1="368.3" x2="560.2" y2="368.3" stroke="#000" stroke-width="0.8"/>
<text x="557.6" y="370.3" font-size="5.6" fill="#000" stroke="#000" stroke-width="0.18" text-anchor="end">40</text>
<line x1="559" y1="432.8" x2="560.2" y2="432.8" stroke="#000" stroke-width="0.8"/>
<line x1="559" y1="389.8" x2="560.2" y2="389.8" stroke="#000" stroke-width="0.8"/>
<line x1="560.1" y1="454.8" x2="560.1" y2="456.8" stroke="#000" stroke-width="0.8"/>
<text x="560.1" y="462.2" font-size="5.6" fill="#000" stroke="#000" stroke-width="0.18" text-anchor="middle">0</text>
<line x1="584.08" y1="454.8" x2="584.08" y2="456.8" stroke="#000" stroke-width="0.8"/>
<text x="584.08" y="462.2" font-size="5.6" fill="#000" stroke="#000" stroke-width="0.18" text-anchor="middle">2</text>
<line x1="608.06" y1="454.8" x2="608.06" y2="456.8" stroke="#000" stroke-width="0.8"/>
<text x="608.06" y="462.2" font-size="5.6" fill="#000" stroke="#000" stroke-width="0.18" text-anchor="middle">4</text>
<line x1="632.04" y1="454.8" x2="632.04" y2="456.8" stroke="#000" stroke-width="0.8"/>
<text x="632.04" y="462.2" font-size="5.6" fill="#000" stroke="#000" stroke-width="0.18" text-anchor="middle">6</text>
<line x1="656.02" y1="454.8" x2="656.02" y2="456.8" stroke="#000" stroke-width="0.8"/>
<text x="656.02" y="462.2" font-size="5.6" fill="#000" stroke="#000" stroke-width="0.18" text-anchor="middle">8</text>
<line x1="680" y1="454.8" x2="680" y2="456.8" stroke="#000" stroke-width="0.8"/>
<text x="680" y="462.2" font-size="5.6" fill="#000" stroke="#000" stroke-width="0.18" text-anchor="middle">10</text>
<line x1="572.09" y1="454.8" x2="572.09" y2="456" stroke="#000" stroke-width="0.8"/>
<line x1="596.07" y1="454.8" x2="596.07" y2="456" stroke="#000" stroke-width="0.8"/>
<line x1="620.05" y1="454.8" x2="620.05" y2="456" stroke="#000" stroke-width="0.8"/>
<line x1="644.03" y1="454.8" x2="644.03" y2="456" stroke="#000" stroke-width="0.8"/>
<line x1="668.01" y1="454.8" x2="668.01" y2="456" stroke="#000" stroke-width="0.8"/>
<text x="620.6" y="470" font-size="7.6" fill="#000" stroke="#000" stroke-width="0.18" text-anchor="middle">Time (h)</text>
<text x="549.3" y="404" font-size="7.2" fill="#000" stroke="#000" stroke-width="0.18" text-anchor="middle" transform="rotate(-90 549.3 404)">Current density (mA cm<tspan dy="-3.38" font-size="4.75">-2</tspan><tspan dy="3.38">)</tspan></text>
<path d="M560.6,422.63 L561.1,423.14 L561.6,423.86 L562.1,424.31 L562.6,424.69 L563.1,425.31 L563.6,425.86 L564.1,426.03 L564.6,425.89 L565.1,425.96 L565.6,426.26 L566.1,426.54 L566.59,426.22 L567.09,426.77 L567.59,426.69 L568.09,426.92 L568.59,427.06 L569.09,427.21 L569.59,427.46 L570.09,427.68 L570.59,427.53 L571.09,427.91 L571.59,427.59 L572.09,427.87 L572.59,428.06 L573.09,427.98 L573.59,427.89 L574.09,427.93 L574.59,428.11 L575.09,428.32 L575.59,428.16 L576.09,428.41 L576.59,428.5 L577.09,428.72 L577.59,428.73 L578.09,428.84 L578.58,428.71 L579.08,428.89 L579.58,429.14 L580.08,429.35 L580.58,428.87 L581.08,429.49 L581.58,429.53 L582.08,429.48 L582.58,429.44 L583.08,429.39 L583.58,429.8 L584.08,429.97 L584.58,429.99 L585.08,429.96 L585.58,429.82 L586.08,429.57 L586.58,429.87 L587.08,430.06 L587.58,429.73 L588.08,430.12 L588.58,430.18 L589.08,430.29 L589.58,429.97 L590.08,430.13 L590.57,430.23 L591.07,430.13 L591.57,430.77 L592.07,430.37 L592.57,430.59 L593.07,430.52 L593.57,430.94 L594.07,430.93 L594.57,430.84 L595.07,430.32 L595.57,430.81 L596.07,430.99 L596.57,431.09 L597.07,430.81 L597.57,431.34 L598.07,430.75 L598.57,430.92 L599.07,431.28 L599.57,431.14 L600.07,431.57 L600.57,431.24 L601.07,431.11 L601.57,431.2 L602.07,431.09 L602.56,431.09 L603.06,431.51 L603.56,431.53 L604.06,431.71 L604.56,431.33 L605.06,431.85 L605.56,431.49 L606.06,431.89 L606.56,431.52 L607.06,431.49 L607.56,431.72 L608.06,431.91 L608.56,431.76 L609.06,431.64 L609.56,431.52 L610.06,431.54 L610.56,431.95 L611.06,432.08 L611.56,431.87 L612.06,431.72 L612.56,432.14 L613.06,431.74 L613.56,431.88 L614.06,432.17 L614.55,431.63 L615.05,432.18 L615.55,432.01 L616.05,432.18 L616.55,432.17 L617.05,432.25 L617.55,432.38 L618.05,432.12 L618.55,432.58 L619.05,432.47 L619.55,432.52 L620.05,432.61 L620.55,432.56 L621.05,432.6 L621.55,432.47 L622.05,432.2 L622.55,432.48 L623.05,432.38 L623.55,432.28 L624.05,432.64 L624.55,432.5 L625.05,432.43 L625.55,432.45 L626.05,432.74 L626.54,432.78 L627.04,433 L627.54,432.76 L628.04,433 L628.54,433.09 L629.04,433.07 L629.54,432.39 L630.04,433.13 L630.54,432.97 L631.04,433.02 L631.54,433.03 L632.04,433.05 L632.54,433.07 L633.04,432.95 L633.54,432.67 L634.04,433.05 L634.54,432.93 L635.04,433.33 L635.54,433.08 L636.04,433.18 L636.54,433.02 L637.04,433.11 L637.54,433.23 L638.04,432.96 L638.53,433.34 L639.03,433.28 L639.53,433.09 L640.03,432.87 L640.53,433.48 L641.03,433.34 L641.53,433.32 L642.03,433.4 L642.53,433.84 L643.03,433.49 L643.53,433.54 L644.03,433.25 L644.53,433.9 L645.03,433.78 L645.53,433.83 L646.03,433.65 L646.53,433.85 L647.03,433.77 L647.53,433.84 L648.03,433.71 L648.53,433.47 L649.03,434 L649.53,433.43 L650.03,433.79 L650.52,433.83 L651.02,433.68 L651.52,434.04 L652.02,433.9 L652.52,433.88 L653.02,434.1 L653.52,433.92 L654.02,434.32 L654.52,434.14 L655.02,434 L655.52,433.73 L656.02,433.88 L656.52,434.38 L657.02,434.18 L657.52,434.16 L658.02,434.57 L658.52,434.01 L659.02,434.17 L659.52,434.22 L660.02,434.45 L660.52,434.23 L661.02,434.26 L661.52,434.09 L662.02,434.58 L662.51,434.62 L663.01,434.38 L663.51,434.53 L664.01,434.26 L664.51,434.45 L665.01,434.84 L665.51,434.62 L666.01,435.08 L666.51,434.48 L667.01,434.77 L667.51,434.64 L668.01,434.82 L668.51,434.72 L669.01,434.63 L669.51,434.59 L670.01,435.4 L670.51,434.8 L671.01,434.43 L671.51,434.72 L672.01,435.01 L672.51,434.8 L673.01,435.19 L673.51,435.14 L674.01,434.93 L674.5,434.88 L675,434.8 L675.5,434.88 L676,434.75 L676.5,435.3 L677,435.4 L677.5,434.85 L678,434.88 L678.5,434.79 L679,434.97 L679.5,434.56 L680,434.97" fill="none" stroke="#FDBE5C" stroke-width="1.8" stroke-linejoin="round"/>
<path d="M560.6,420.6 L561.1,420.89 L561.6,421.18 L562.1,421.47 L562.6,421.75 L563.1,422.03 L563.6,422.3 L564.1,422.57 L564.6,422.82 L565.1,423.08 L565.6,423.32 L566.1,423.55 L566.59,423.78 L567.09,424 L567.59,424.22 L568.09,424.43 L568.59,424.63 L569.09,424.83 L569.59,425.03 L570.09,425.23 L570.59,425.42 L571.09,425.61 L571.59,425.8 L572.09,425.98 L572.59,426.16 L573.09,426.34 L573.59,426.52 L574.09,426.7 L574.59,426.88 L575.09,427.06 L575.59,427.24 L576.09,427.42 L576.59,427.59 L577.09,427.77 L577.59,427.94 L578.09,428.11 L578.58,428.29 L579.08,428.46 L579.58,428.62 L580.08,428.79 L580.58,428.95 L581.08,429.12 L581.58,429.28 L582.08,429.43 L582.58,429.59 L583.08,429.74 L583.58,429.89 L584.08,430.04 L584.58,430.18 L585.08,430.32 L585.58,430.46 L586.08,430.6 L586.58,430.74 L587.08,430.88 L587.58,431.02 L588.08,431.15 L588.58,431.28 L589.08,431.42 L589.58,431.55 L590.08,431.68 L590.57,431.8 L591.07,431.93 L591.57,432.06 L592.07,432.18 L592.57,432.3 L593.07,432.42 L593.57,432.54 L594.07,432.66 L594.57,432.77 L595.07,432.89 L595.57,433 L596.07,433.11 L596.57,433.22 L597.07,433.33 L597.57,433.43 L598.07,433.53 L598.57,433.64 L599.07,433.73 L599.57,433.83 L600.07,433.92 L600.57,434.02 L601.07,434.11 L601.57,434.19 L602.07,434.28 L602.56,434.37 L603.06,434.45 L603.56,434.54 L604.06,434.62 L604.56,434.71 L605.06,434.79 L605.56,434.87 L606.06,434.96 L606.56,435.04 L607.06,435.12 L607.56,435.21 L608.06,435.3 L608.56,435.39 L609.06,435.47 L609.56,435.57 L610.06,435.66 L610.56,435.75 L611.06,435.85 L611.56,435.95 L612.06,436.05 L612.56,436.15 L613.06,436.25 L613.56,436.35 L614.06,436.45 L614.55,436.55 L615.05,436.65 L615.55,436.74 L616.05,436.84 L616.55,436.94 L617.05,437.03 L617.55,437.12 L618.05,437.21 L618.55,437.29 L619.05,437.38 L619.55,437.46 L620.05,437.53 L620.55,437.61 L621.05,437.68 L621.55,437.74 L622.05,437.81 L622.55,437.88 L623.05,437.94 L623.55,438 L624.05,438.06 L624.55,438.12 L625.05,438.18 L625.55,438.23 L626.05,438.29 L626.54,438.35 L627.04,438.4 L627.54,438.45 L628.04,438.51 L628.54,438.56 L629.04,438.61 L629.54,438.66 L630.04,438.72 L630.54,438.77 L631.04,438.82 L631.54,438.87 L632.04,438.93 L632.54,438.98 L633.04,439.03 L633.54,439.08 L634.04,439.14 L634.54,439.19 L635.04,439.24 L635.54,439.3 L636.04,439.35 L636.54,439.4 L637.04,439.45 L637.54,439.5 L638.04,439.55 L638.53,439.6 L639.03,439.65 L639.53,439.7 L640.03,439.74 L640.53,439.79 L641.03,439.83 L641.53,439.87 L642.03,439.92 L642.53,439.96 L643.03,439.99 L643.53,440.03 L644.03,440.07 L644.53,440.11 L645.03,440.14 L645.53,440.18 L646.03,440.21 L646.53,440.24 L647.03,440.28 L647.53,440.31 L648.03,440.34 L648.53,440.37 L649.03,440.4 L649.53,440.43 L650.03,440.46 L650.52,440.49 L651.02,440.52 L651.52,440.55 L652.02,440.57 L652.52,440.6 L653.02,440.63 L653.52,440.65 L654.02,440.68 L654.52,440.71 L655.02,440.73 L655.52,440.76 L656.02,440.78 L656.52,440.81 L657.02,440.83 L657.52,440.86 L658.02,440.88 L658.52,440.91 L659.02,440.93 L659.52,440.96 L660.02,440.98 L660.52,441 L661.02,441.03 L661.52,441.05 L662.02,441.07 L662.51,441.09 L663.01,441.11 L663.51,441.13 L664.01,441.15 L664.51,441.16 L665.01,441.18 L665.51,441.19 L666.01,441.21 L666.51,441.22 L667.01,441.24 L667.51,441.25 L668.01,441.27 L668.51,441.28 L669.01,441.29 L669.51,441.31 L670.01,441.32 L670.51,441.33 L671.01,441.34 L671.51,441.36 L672.01,441.37 L672.51,441.38 L673.01,441.39 L673.51,441.4 L674.01,441.41 L674.5,441.42 L675,441.43 L675.5,441.44 L676,441.45 L676.5,441.46 L677,441.47 L677.5,441.47 L678,441.48 L678.5,441.49 L679,441.49 L679.5,441.5 L680,441.5" fill="none" stroke="#0A4DB1" stroke-width="1.2" stroke-linejoin="round"/>
<path d="M560.6,396 L561.1,406.66 L561.6,411.88 L562.1,415.06 L562.6,416.91 L563.1,418.22 L563.6,419.16 L564.1,419.89 L564.6,420.48 L565.1,421 L565.6,421.49 L566.1,421.95 L566.59,422.38 L567.09,422.78 L567.59,423.14 L568.09,423.46 L568.59,423.74 L569.09,424.01 L569.59,424.25 L570.09,424.48 L570.59,424.7 L571.09,424.92 L571.59,425.14 L572.09,425.36 L572.59,425.58 L573.09,425.79 L573.59,425.99 L574.09,426.19 L574.59,426.38 L575.09,426.56 L575.59,426.73 L576.09,426.88 L576.59,427.03 L577.09,427.17 L577.59,427.31 L578.09,427.45 L578.58,427.59 L579.08,427.74 L579.58,427.89 L580.08,428.05 L580.58,428.22 L581.08,428.4 L581.58,428.57 L582.08,428.74 L582.58,428.91 L583.08,429.07 L583.58,429.21 L584.08,429.35 L584.58,429.46 L585.08,429.58 L585.58,429.69 L586.08,429.79 L586.58,429.9 L587.08,430 L587.58,430.1 L588.08,430.2 L588.58,430.29 L589.08,430.38 L589.58,430.47 L590.08,430.56 L590.57,430.64 L591.07,430.73 L591.57,430.81 L592.07,430.89 L592.57,430.96 L593.07,431.04 L593.57,431.11 L594.07,431.19 L594.57,431.26 L595.07,431.33 L595.57,431.4 L596.07,431.46 L596.57,431.53 L597.07,431.59 L597.57,431.66 L598.07,431.72 L598.57,431.78 L599.07,431.85 L599.57,431.91 L600.07,431.97 L600.57,432.03 L601.07,432.09 L601.57,432.15 L602.07,432.21 L602.56,432.26 L603.06,432.32 L603.56,432.38 L604.06,432.43 L604.56,432.49 L605.06,432.54 L605.56,432.6 L606.06,432.65 L606.56,432.71 L607.06,432.76 L607.56,432.81 L608.06,432.86 L608.56,432.91 L609.06,432.96 L609.56,433.01 L610.06,433.06 L610.56,433.1 L611.06,433.15 L611.56,433.2 L612.06,433.24 L612.56,433.29 L613.06,433.33 L613.56,433.38 L614.06,433.42 L614.55,433.46 L615.05,433.5 L615.55,433.54 L616.05,433.58 L616.55,433.62 L617.05,433.66 L617.55,433.7 L618.05,433.73 L618.55,433.77 L619.05,433.8 L619.55,433.84 L620.05,433.87 L620.55,433.9 L621.05,433.94 L621.55,433.97 L622.05,434 L622.55,434.03 L623.05,434.06 L623.55,434.09 L624.05,434.13 L624.55,434.16 L625.05,434.19 L625.55,434.22 L626.05,434.25 L626.54,434.28 L627.04,434.31 L627.54,434.34 L628.04,434.37 L628.54,434.39 L629.04,434.42 L629.54,434.45 L630.04,434.48 L630.54,434.5 L631.04,434.53 L631.54,434.56 L632.04,434.58 L632.54,434.61 L633.04,434.63 L633.54,434.66 L634.04,434.68 L634.54,434.7 L635.04,434.73 L635.54,434.75 L636.04,434.77 L636.54,434.79 L637.04,434.81 L637.54,434.83 L638.04,434.85 L638.53,434.87 L639.03,434.88 L639.53,434.9 L640.03,434.92 L640.53,434.93 L641.03,434.95 L641.53,434.96 L642.03,434.97 L642.53,434.99 L643.03,435 L643.53,435.01 L644.03,435.02 L644.53,435.03 L645.03,435.04 L645.53,435.05 L646.03,435.06 L646.53,435.07 L647.03,435.09 L647.53,435.1 L648.03,435.11 L648.53,435.12 L649.03,435.13 L649.53,435.14 L650.03,435.15 L650.52,435.16 L651.02,435.17 L651.52,435.18 L652.02,435.19 L652.52,435.2 L653.02,435.21 L653.52,435.22 L654.02,435.23 L654.52,435.23 L655.02,435.24 L655.52,435.25 L656.02,435.26 L656.52,435.27 L657.02,435.28 L657.52,435.29 L658.02,435.3 L658.52,435.3 L659.02,435.31 L659.52,435.32 L660.02,435.33 L660.52,435.34 L661.02,435.34 L661.52,435.35 L662.02,435.36 L662.51,435.37 L663.01,435.37 L663.51,435.38 L664.01,435.39 L664.51,435.39 L665.01,435.4 L665.51,435.41 L666.01,435.41 L666.51,435.42 L667.01,435.42 L667.51,435.43 L668.01,435.43 L668.51,435.44 L669.01,435.44 L669.51,435.45 L670.01,435.45 L670.51,435.46 L671.01,435.46 L671.51,435.47 L672.01,435.47 L672.51,435.47 L673.01,435.48 L673.51,435.48 L674.01,435.48 L674.5,435.49 L675,435.49 L675.5,435.49 L676,435.49 L676.5,435.49 L677,435.5 L677.5,435.5 L678,435.5 L678.5,435.5 L679,435.5 L679.5,435.5 L680,435.5" fill="none" stroke="#9A9B94" stroke-width="1.1" stroke-linejoin="round"/>
<path d="M560.6,369.36 L561.1,372.47 L561.6,375.79 L562.1,376.73 L562.6,377.8 L563.1,378.8 L563.6,378.82 L564.1,380.24 L564.6,380.56 L565.1,382.82 L565.6,381.96 L566.1,382.11 L566.59,382.49 L567.09,382.65 L567.59,382.78 L568.09,383.33 L568.59,383.96 L569.09,383.92 L569.59,384.68 L570.09,384.47 L570.59,384.84 L571.09,385.76 L571.59,385.61 L572.09,385.45 L572.59,385.85 L573.09,386.42 L573.59,387.26 L574.09,386.58 L574.59,386.82 L575.09,387.57 L575.59,386.98 L576.09,387.43 L576.59,388.11 L577.09,388.17 L577.59,388.14 L578.09,388.55 L578.58,387.25 L579.08,389.03 L579.58,388.35 L580.08,388.21 L580.58,389.17 L581.08,389.5 L581.58,389.16 L582.08,389.04 L582.58,389.65 L583.08,389.76 L583.58,390.51 L584.08,390.38 L584.58,390.29 L585.08,390.82 L585.58,390.42 L586.08,390.27 L586.58,391.05 L587.08,391.2 L587.58,391.02 L588.08,390.93 L588.58,391.51 L589.08,390.52 L589.58,392.01 L590.08,392.07 L590.57,391.33 L591.07,392.19 L591.57,391.91 L592.07,392.78 L592.57,391.76 L593.07,392.37 L593.57,393.2 L594.07,393.53 L594.57,392.28 L595.07,393.12 L595.57,393.6 L596.07,393.34 L596.57,394.4 L597.07,393.36 L597.57,394.14 L598.07,393.68 L598.57,394.84 L599.07,394.36 L599.57,394.34 L600.07,393.9 L600.57,395.44 L601.07,395.17 L601.57,395.29 L602.07,395.57 L602.56,395.35 L603.06,395.05 L603.56,395.1 L604.06,395.2 L604.56,396.22 L605.06,395.14 L605.56,395.6 L606.06,395.82 L606.56,396.15 L607.06,396.39 L607.56,395.72 L608.06,395.61 L608.56,396.43 L609.06,397.03 L609.56,396.93 L610.06,396.79 L610.56,396.65 L611.06,397 L611.56,396.86 L612.06,397.39 L612.56,396.79 L613.06,397.27 L613.56,397.25 L614.06,397.61 L614.55,397.55 L615.05,398.61 L615.55,398.25 L616.05,398.33 L616.55,396.92 L617.05,397.71 L617.55,397.68 L618.05,398.23 L618.55,397.13 L619.05,398.66 L619.55,398.69 L620.05,397.77 L620.55,397.98 L621.05,398.13 L621.55,398.56 L622.05,398.88 L622.55,399.55 L623.05,398.68 L623.55,399.16 L624.05,398.97 L624.55,399.72 L625.05,399.37 L625.55,399.7 L626.05,398.75 L626.54,399.2 L627.04,399.01 L627.54,400.06 L628.04,399.78 L628.54,399.45 L629.04,399.47 L629.54,399.95 L630.04,399.53 L630.54,399.51 L631.04,400.19 L631.54,401.11 L632.04,400.05 L632.54,400 L633.04,399.83 L633.54,399.84 L634.04,400.71 L634.54,400.93 L635.04,400.65 L635.54,400.87 L636.04,400.86 L636.54,400.95 L637.04,400.33 L637.54,400.85 L638.04,401.17 L638.53,400.87 L639.03,401.07 L639.53,400.99 L640.03,401.27 L640.53,401.83 L641.03,401.37 L641.53,401.54 L642.03,402 L642.53,401.99 L643.03,402.48 L643.53,400.95 L644.03,402.23 L644.53,401.71 L645.03,402.02 L645.53,402.35 L646.03,402.49 L646.53,402.5 L647.03,402.16 L647.53,402.79 L648.03,402.02 L648.53,402.1 L649.03,402.52 L649.53,401.97 L650.03,403.13 L650.52,402.67 L651.02,403.17 L651.52,402.27 L652.02,402.13 L652.52,402.38 L653.02,402.63 L653.52,402.09 L654.02,402.52 L654.52,402.36 L655.02,403.06 L655.52,402.12 L656.02,402.85 L656.52,402.15 L657.02,402.03 L657.52,402.15 L658.02,401.96 L658.52,402.53 L659.02,402.92 L659.52,402.56 L660.02,402.77 L660.52,403.2 L661.02,402.64 L661.52,402.62 L662.02,402.44 L662.51,401.89 L663.01,402.9 L663.51,401.85 L664.01,402.87 L664.51,402.61 L665.01,403.1 L665.51,402.61 L666.01,402.31 L666.51,402.82 L667.01,402.45 L667.51,402.62 L668.01,402.73 L668.51,402.67 L669.01,402.66 L669.51,402.41 L670.01,402.7 L670.51,401.89 L671.01,402.74 L671.51,402.32 L672.01,403.31 L672.51,403.39 L673.01,402.05 L673.51,402.95 L674.01,402.85 L674.5,402.48 L675,403.16 L675.5,402.76 L676,402.23 L676.5,402.87 L677,402.94 L677.5,403.06 L678,402.52 L678.5,403.31 L679,403.38 L679.5,402.6 L680,402.82" fill="none" stroke="#168C7D" stroke-width="1.25" stroke-linejoin="round"/>
</svg></body></html>
